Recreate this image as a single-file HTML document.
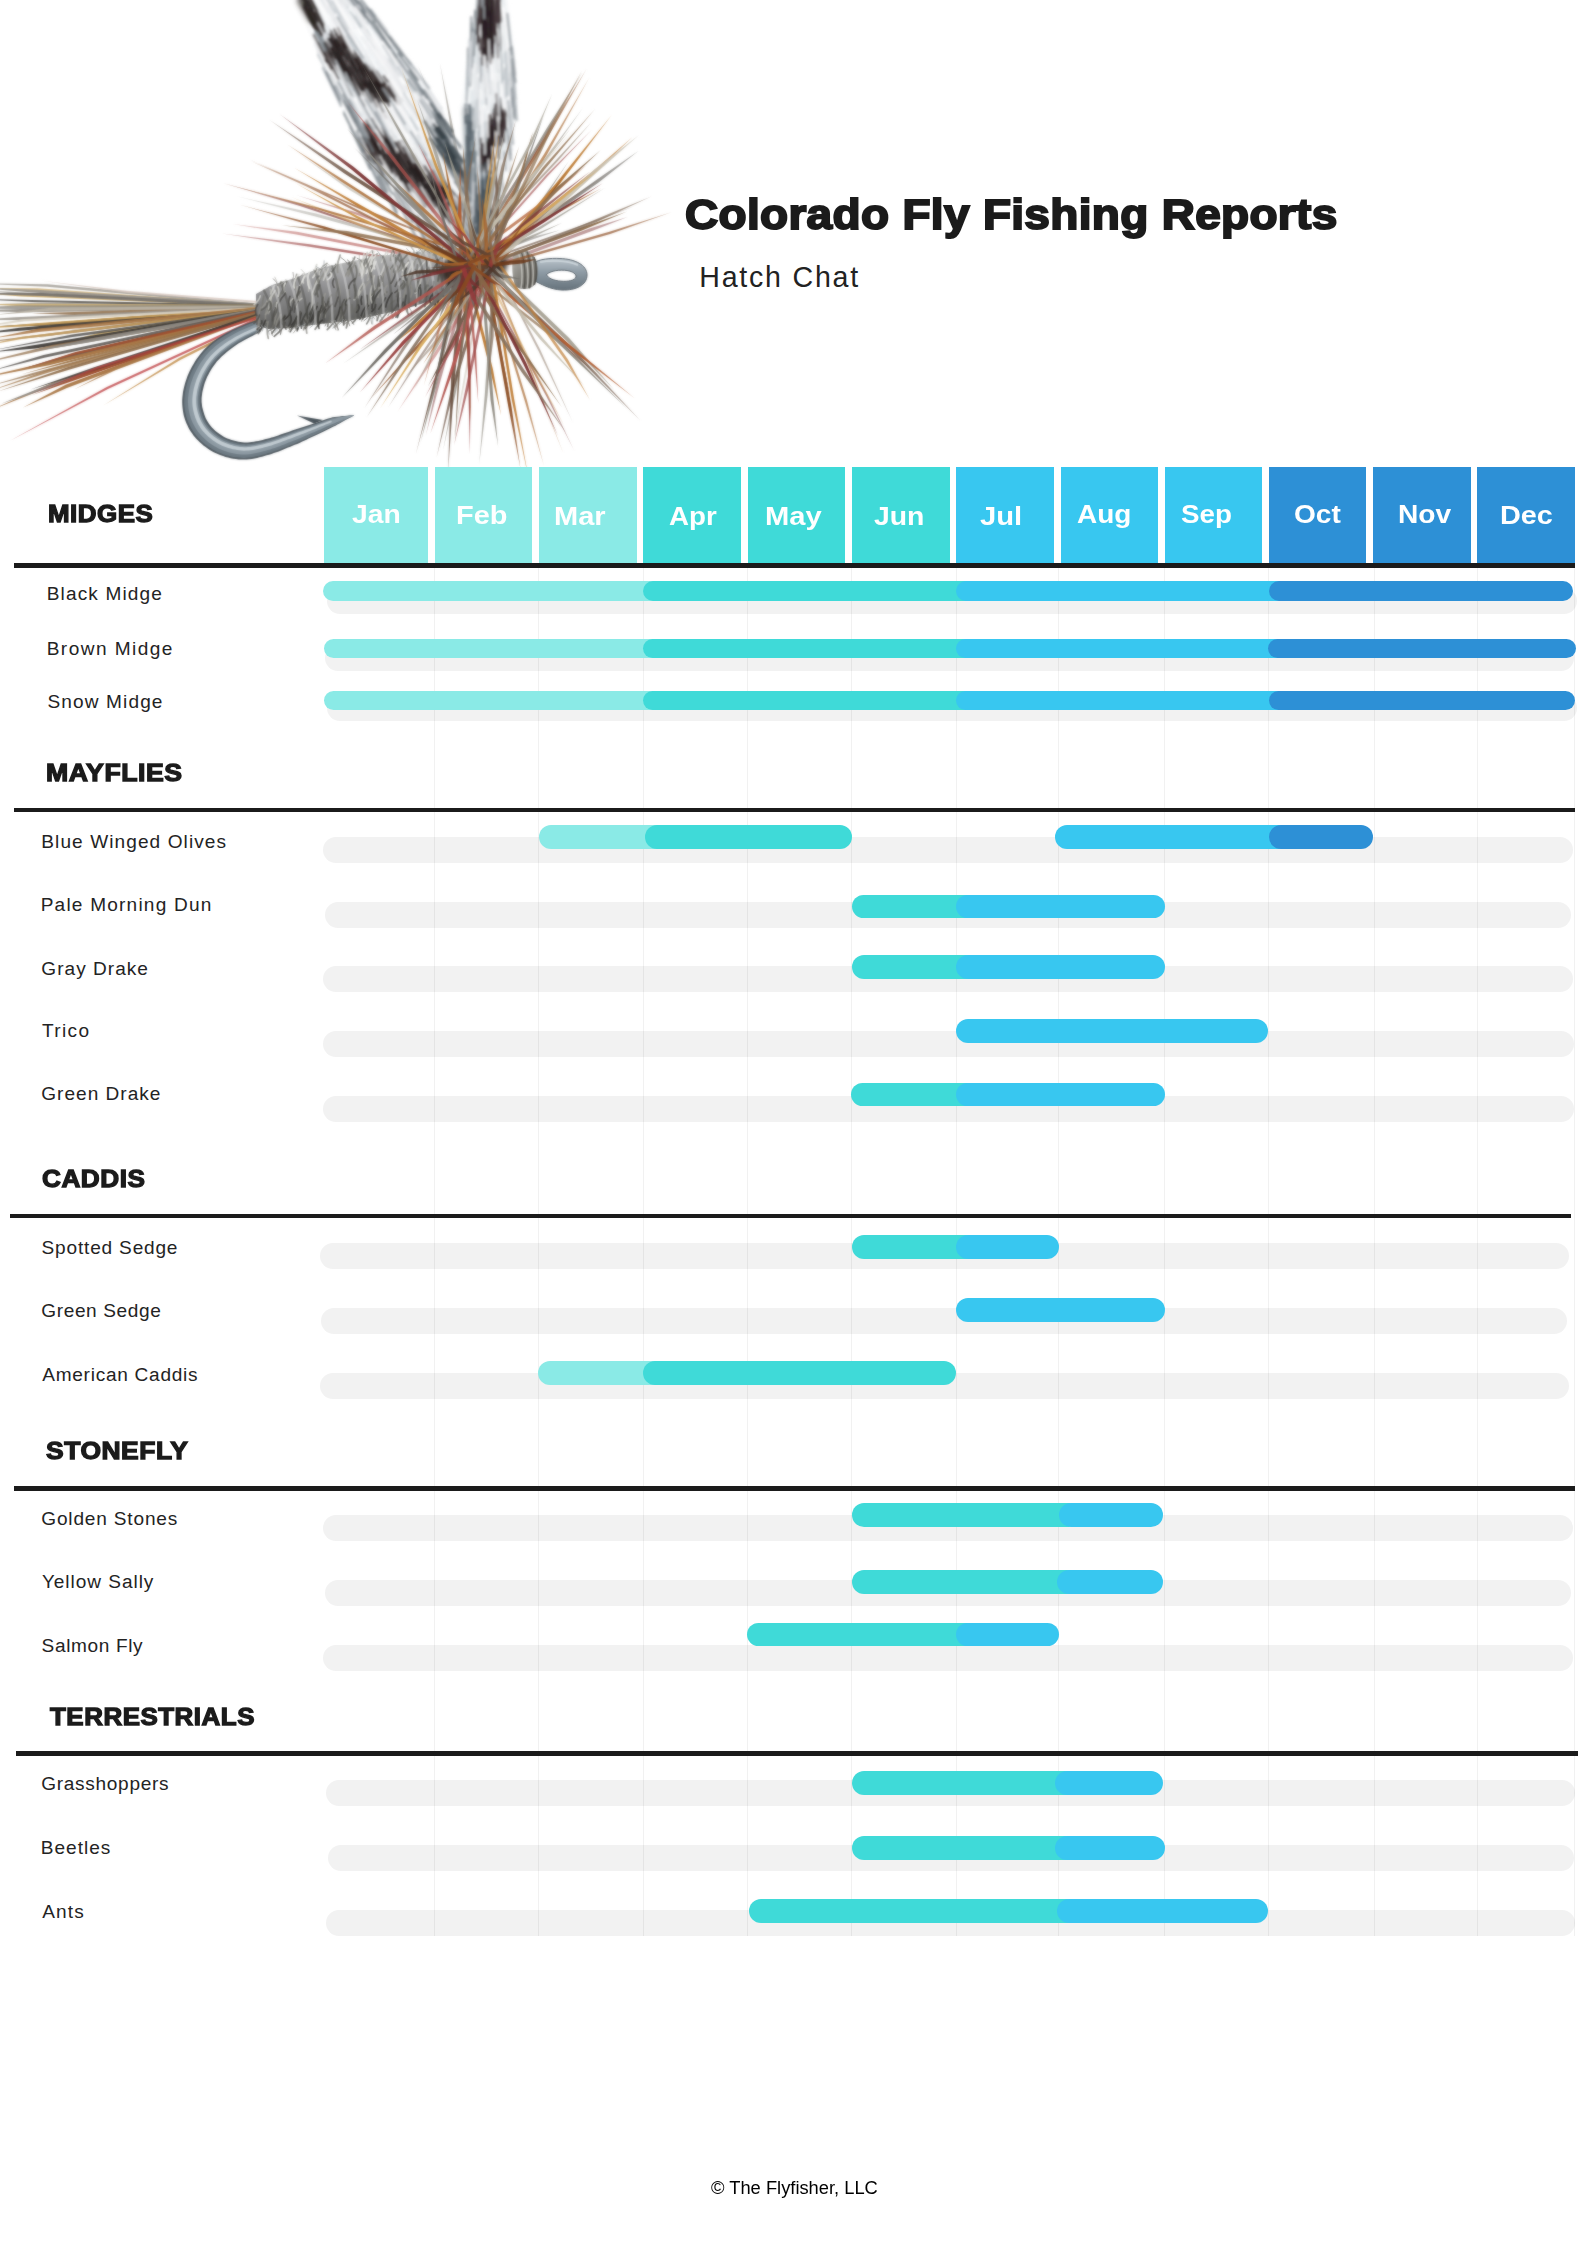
<!DOCTYPE html>
<html><head><meta charset="utf-8"><title>Colorado Fly Fishing Reports - Hatch Chart</title>
<style>
html,body{margin:0;padding:0;background:#fff}
body{width:1587px;height:2245px;position:relative;overflow:hidden;font-family:"Liberation Sans",sans-serif}
.a{position:absolute}
.t{position:absolute;white-space:nowrap;line-height:1;margin:0;padding:0;font-kerning:normal}
.m{position:absolute;top:467px;height:95.8px}
.k{position:absolute;background:#f2f2f2;border-radius:14px}
.b{position:absolute;border-radius:13px}
.l{position:absolute;background:#1b1b1b}
.g{position:absolute;top:567.6px;height:1368.6px;width:1px;background:rgba(0,0,0,.055)}
#fly{position:absolute;left:0;top:0}
</style></head><body>

<svg id="fly" width="720" height="480" viewBox="0 0 720 480">
<defs>
<filter id="s" x="-5%" y="-5%" width="110%" height="110%" color-interpolation-filters="sRGB"><feGaussianBlur stdDeviation="1" result="b"/><feComposite in="SourceGraphic" in2="b" operator="arithmetic" k1="0" k2="0.45" k3="0.55" k4="0"/></filter>
<filter id="s2" x="-10%" y="-10%" width="120%" height="120%"><feGaussianBlur stdDeviation="2.5"/></filter>
<filter id="s3" x="-10%" y="-10%" width="120%" height="120%"><feGaussianBlur stdDeviation="1.1"/></filter>
<radialGradient id="hm" gradientUnits="userSpaceOnUse" cx="478" cy="265" r="285"><stop offset="0" stop-color="#fff"/><stop offset="0.5" stop-color="#fff"/><stop offset="0.8" stop-color="#b0b0b0"/><stop offset="1" stop-color="#555"/></radialGradient>
<mask id="hmask" maskUnits="userSpaceOnUse" x="0" y="0" width="720" height="480"><rect width="720" height="480" fill="url(#hm)"/></mask>
<linearGradient id="tm" gradientUnits="userSpaceOnUse" x1="256" y1="310" x2="-20" y2="420"><stop offset="0" stop-color="#fff"/><stop offset="0.75" stop-color="#eee"/><stop offset="1" stop-color="#888"/></linearGradient>
<mask id="tmask" maskUnits="userSpaceOnUse" x="0" y="0" width="720" height="480"><rect width="720" height="480" fill="url(#tm)"/></mask>
<linearGradient id="bg" x1="0" y1="0" x2="0.25" y2="1"><stop offset="0" stop-color="#cfd0cd"/><stop offset="0.45" stop-color="#98989a"/><stop offset="1" stop-color="#5a5a58"/></linearGradient>
<linearGradient id="hg" x1="0" y1="0" x2="1" y2="1"><stop offset="0" stop-color="#bdbcb7"/><stop offset="0.5" stop-color="#84827c"/><stop offset="1" stop-color="#55534e"/></linearGradient>
<linearGradient id="eg" x1="0" y1="0" x2="0" y2="1"><stop offset="0" stop-color="#b9c3ca"/><stop offset="0.45" stop-color="#8d9aa4"/><stop offset="1" stop-color="#66737c"/></linearGradient>
</defs>
<g filter="url(#s)">
<g mask="url(#hmask)"><path fill="#806a56" fill-opacity="0.62" d="M459.8 265.6L558.2 160.6L591.8 121.7L556.8 159.3L458.4 264.2Z"/>
<path fill="#726e68" fill-opacity="0.5" d="M469.7 262.6L423.9 148.6L392.2 83.1L421.3 149.7L467.2 263.6ZM459.1 267.6L531 239.9L560.4 230.1L530.2 237.5L458.3 265.2ZM489.8 264.1L498.6 330.4L500.5 355L500.7 330.2L491.9 263.9Z"/>
<path fill="#7d3636" fill-opacity="0.75" d="M479.4 263.6L300.6 204L222.7 183L299.9 206L478.7 265.7Z"/>
<path fill="#98403f" fill-opacity="0.62" d="M461.9 272.7L547.8 176.1L592 129.6L546.3 174.8L460.4 271.3Z"/>
<path fill="#8f7050" fill-opacity="0.62" d="M470.1 266.4L494.7 312.7L515.5 359.7L496.7 311.7L472.2 265.4ZM480.5 268.7L449.5 210.8L415.7 159.5L447.1 212.2L478.1 270.1Z"/>
<path fill="#8f7050" fill-opacity="0.75" d="M459.3 264.6L542.1 329.7L602.2 378.2L543.7 327.7L460.9 262.5Z"/>
<path fill="#726e68" fill-opacity="0.75" d="M476.3 262.4L538.6 220.3L569.2 193.4L537.5 218.8L475.2 260.9ZM484.3 266.9L417.1 314.1L393 334.5L418.3 315.7L485.4 268.5Z"/>
<path fill="#98403f" fill-opacity="0.75" d="M495.2 260.4L479.8 179.7L469.7 101.5L477 180.1L492.4 260.8ZM470.8 269.9L309.8 244.2L221.9 233.6L309.4 246.7L470.4 272.4Z"/>
<path fill="#634837" fill-opacity="0.5" d="M487.4 263.2L423.4 157.4L390.7 114L421.1 158.9L485 264.7ZM486 258.5L417.7 358.7L388.1 407.4L419.5 359.9L487.8 259.7Z"/>
<path fill="#726e68" fill-opacity="0.62" d="M488.8 267.9L535.5 212.4L569 160.7L533.7 211.1L487 266.5Z"/>
<path fill="#c4bdad" fill-opacity="0.5" d="M461.1 272.5L528.7 182.3L572.2 130.4L527.1 181L459.5 271.3ZM484.6 263L462.8 383.5L452.6 443.3L464.6 383.9L486.4 263.3ZM494.8 260.3L470.3 199.2L459.6 173.3L467.6 200.2L492.1 261.3Z"/>
<path fill="#d8ad62" fill-opacity="0.62" d="M478.4 265.2L439.9 294.5L405.3 319L441.2 296.3L479.8 267.1ZM466.9 263.9L363.6 225.1L290 196.6L362.6 227.5L466 266.4Z"/>
<path fill="#634837" fill-opacity="0.62" d="M458.7 270.5L402.8 346.9L364.3 408.2L405.2 348.5L461.1 272.1ZM474.9 265.2L555 236.8L633.5 206.5L554.4 234.9L474.2 263.3Z"/>
<path fill="#aaa598" fill-opacity="0.75" d="M478.2 263.3L493.6 179.4L502.8 113L491 178.9L475.6 262.8Z"/>
<path fill="#918d83" fill-opacity="0.62" d="M489.5 261.9L452.8 148.9L417.5 64.2L450.4 149.8L487.2 262.7ZM476.1 260.3L405.6 318.4L343.3 363.4L407.4 320.8L477.9 262.7ZM465 271.8L530.4 182.8L583 107.8L527.8 181L462.5 270ZM479 263.1L455.6 139.6L439.8 62.6L452.6 140.1L476 263.6Z"/>
<path fill="#b05c30" fill-opacity="0.75" d="M460 266.1L545.3 202.8L585.8 165.6L543.5 200.5L458.2 263.8Z"/>
<path fill="#7d3636" fill-opacity="0.5" d="M469.5 268.4L437.5 380.2L425.8 435.6L440.4 381L472.4 269.2ZM491.8 268.2L591.3 231.2L627.5 217L590.3 228.3L490.7 265.3ZM463.9 263.7L533.4 158.1L569.4 93L531.2 156.7L461.7 262.4Z"/>
<path fill="#918d83" fill-opacity="0.5" d="M479.9 258.9L316.1 213.6L236.7 196.3L315.4 216.4L479.1 261.8Z"/>
<path fill="#aaa598" fill-opacity="0.5" d="M472.7 261L350.4 187.7L302.4 156.3L349.1 189.7L471.5 263Z"/>
<path fill="#918d83" fill-opacity="0.75" d="M460.3 274.2L541.4 228.4L605.2 187.8L540.2 226.4L459.1 272.2Z"/>
<path fill="#98403f" fill-opacity="0.5" d="M491.3 264.2L359.5 213.2L296.7 195.3L358.7 215.4L490.5 266.4Z"/>
<path fill="#8f5228" fill-opacity="0.5" d="M477.9 261.8L564.7 204.8L603.3 176.7L563.4 202.8L476.6 259.9Z"/>
<path fill="#b05c30" fill-opacity="0.62" d="M460.1 269.3L437.6 329.7L423.9 385.4L439.9 330.4L462.4 270Z"/>
<path fill="#a86a32" fill-opacity="0.75" d="M482.5 263L524.8 401L544 466L526.9 400.3L484.6 262.4Z"/>
<path fill="#b25650" fill-opacity="0.5" d="M493.5 257.8L434.2 353.3L398 411.1L436.8 355L496.1 259.5Z"/>
<path fill="#7d3636" fill-opacity="0.62" d="M475.3 266L545.8 395.3L574.6 451.5L547.4 394.5L477 265.1ZM479.4 263.5L540.3 321.6L597.8 380.1L542 319.9L481.1 261.9Z"/>
<path fill="#8f5228" fill-opacity="0.75" d="M488.3 257.4L363.8 208.7L249 159.3L363 210.6L487.5 259.4ZM467.9 265.7L307 184.2L249.9 160.7L306.1 186.2L466.9 267.7Z"/>
<path fill="#a86a32" fill-opacity="0.62" d="M492.9 260.6L453.6 177.4L414.8 94.1L451.3 178.5L490.5 261.7ZM488.4 267.5L529.7 369.6L563.4 453.4L531.4 369L490.1 266.8Z"/>
<path fill="#806a56" fill-opacity="0.75" d="M483.1 266.6L469.7 196.3L463.1 151.2L467 196.7L480.4 267Z"/>
<path fill="#c0803a" fill-opacity="0.5" d="M469.2 261.5L397.3 156.5L369.2 110.6L395.7 157.5L467.7 262.5Z"/>
<path fill="#cc9548" fill-opacity="0.5" d="M482.8 268.3L535.3 375.7L563.9 424.7L537.4 374.7L484.8 267.3Z"/>
<path fill="#b25650" fill-opacity="0.62" d="M471.3 265.6L296.9 231.8L232.8 224.1L296.4 234.6L470.8 268.4Z"/>
<path fill="#8f5228" fill-opacity="0.62" d="M474.1 268.3L415 151.6L385.6 104.4L412.8 152.8L471.9 269.5Z"/>
<path fill="#aaa598" fill-opacity="0.62" d="M471.5 270.3L485.8 184.6L490.6 110.9L482.7 184.2L468.4 269.9Z"/>
<path fill="#806a56" fill-opacity="0.5" d="M494.6 266.3L538.3 350.5L573.1 423L540.1 349.6L496.4 265.4ZM492 263.2L431.3 345.1L403.9 378.4L433.3 346.7L494 264.8Z"/></g>
<path d="M474.8 253.5L473.5 239.2L472.1 225L470.1 211.2L468.1 197.3L466 187.4L462.3 175.1L458.5 162.8L454.8 150.4L451.7 139.9L446 128.6L440.3 117.4L434.5 106.1L428.8 94.8L420.7 80.8L413.3 70.4L405.9 60.1L398.6 49.8L391.2 39.4L383.2 29.3L374.7 19.6L366.3 9.9L357.3 0.5L347.6 -8.4L337.8 -17.4L306.2 1.4L309.3 14.2L312.4 27L316.3 39.4L320.7 51.5L325.1 63.6L329.9 75.3L335.3 86.8L340.7 98.3L346.1 109.8L351.5 121.3L355.1 129.6L360.1 141.2L365.2 152.8L370.2 164.4L375.3 176L383.9 187.9L392 197.9L400.1 207.9L408.2 217.9L418.2 230.2L430.2 237.5L442.1 244.8L454.6 251.7L467.2 258.5Z" fill="#e9edf0" fill-opacity="0.95" filter="url(#s2)"/>
<path d="M481.6 252.5L485.5 242.1L489.3 231.7L493.2 221.3L496.8 209.5L499 198.7L501.1 187.9L503.2 177.1L505.4 166.3L507.5 156.4L509.3 145.6L511.1 134.8L512.9 124.1L514.6 113.3L515.6 101.1L514.8 90.2L514 79.3L513.3 68.4L512.5 57.6L511.4 46.6L509.8 35.7L508.3 24.9L506.7 14L505.2 3.1L504 -7.8L480 -8.2L478.5 2.6L476.6 13.5L474.7 24.3L472.8 35.1L470.8 46L469.3 56.7L468.1 67.6L467 78.4L465.8 89.3L464.7 100.1L464.6 109.5L464.7 120.4L464.8 131.3L465 142.2L465.1 153.2L466.1 164.9L467.4 175.8L468.8 186.7L470.1 197.6L471.4 208.5L472.5 218.2L473.1 229.3L473.7 240.4L474.4 251.5Z" fill="#e3e8eb" fill-opacity="0.95" filter="url(#s2)"/>
<g filter="url(#s2)"><path d="M304 0L314 17" stroke="#3a3230" stroke-width="13.6" stroke-linecap="round" stroke-opacity="0.8" fill="none"/><path d="M332 50L380 94" stroke="#3a3130" stroke-width="22.1" stroke-linecap="round" stroke-opacity="0.8" fill="none"/><path d="M434 120L456 168" stroke="#4a545b" stroke-width="13.6" stroke-linecap="round" stroke-opacity="0.8" fill="none"/><path d="M378 146L444 202" stroke="#3a3130" stroke-width="23.8" stroke-linecap="round" stroke-opacity="0.8" fill="none"/><path d="M488 4L488 40" stroke="#3a2f30" stroke-width="17" stroke-linecap="round" stroke-opacity="0.8" fill="none"/><path d="M487 40L487 58" stroke="#3a2f30" stroke-width="8.5" stroke-linecap="round" stroke-opacity="0.8" fill="none"/><path d="M500 114L485 164" stroke="#3a2f30" stroke-width="13.6" stroke-linecap="round" stroke-opacity="0.8" fill="none"/><path d="M468 110L471 176" stroke="#67737b" stroke-width="8.5" stroke-linecap="round" stroke-opacity="0.8" fill="none"/><path d="M485 184L480 244" stroke="#56626a" stroke-width="15.3" stroke-linecap="round" stroke-opacity="0.8" fill="none"/></g>
<g filter="url(#s3)"><path fill="none" stroke="#ffffff" stroke-opacity="0.85" stroke-width="2.0" stroke-linecap="round" d="M375.8 39L364.9 22.6M404.9 221.3L391.3 195.6M327.9 20.6L313.5 -6.4M416.2 77.5L402 58.6M416.5 121.3L406 105.3M433.2 235.1L422.4 213.1M336.2 28.8L314.6 -8.1M400.1 211.9L390.9 190.9M408.1 132.6L391.4 104.6M437.7 215.3L419.4 183.9M439.4 180.6L418 145.9M340.6 34.1L331 16.8M435.8 148.8L420.2 125.6M356.3 101.8L347.2 83.9M433.5 240.3L412.8 202.9M406.3 56L384 25.3M418.4 132.1L401.2 103.4M470.6 251.5L448.2 212.5M451.1 249.6L438.3 227.4M455.9 249L443 225.7M365.9 21.5L343 -14.4M394.8 62.1L376.7 33.8M467.1 263.2L455 239.7M470.7 238.1L446.3 202.3M400.8 137.9L386.7 112.7M401.9 74.2L385.7 51.2M326.7 13.6L306.9 -22.3M445.7 242.7L434.8 223.7M354.2 11.9L344 -4.3M417.2 108L398.4 78.6M402.2 199L380.3 156.6M337.4 90.3L325.8 65.4M422.1 124.5L409.8 107.1M403.5 220.4L387.4 183.8M416.1 100.3L397.4 70.2M350.8 36.1L341.5 19.4M431.2 116.1L420.8 100.4M391.3 69L372.4 37.1M480 261.9L456.6 227.6M408.4 225.5L387.2 186M464.4 265.6L453.1 241.8M383.2 35.2L366.9 10M469.3 253.6L450.4 220.7M341.7 38.4L326.1 10.6M483.3 231.9L458.9 195.5M414.2 94.2L397.7 70.5M346.6 4.1L321.4 -33.1M389.4 77L368.6 42.2M462.5 260.4L450.4 238.4M402.9 82.5L379.9 44.5M459.6 261.7L443.1 228.1M405.6 100.7L391.2 79.9M425.8 219.2L412 192.6M481.8 241.5L461.8 210.6M383.1 140.4L367.8 109.9M461.4 253.5L439.4 217.4M393.6 121.2L379.8 97.2M390.3 52.4L378.8 35.2M403.2 79.5L381.3 47.2M463.4 198.4L442.3 169.1M400.3 149.4L389.3 129.6M456.8 252.6L441.1 225.4M403.4 55L385.3 30M368.8 142.1L357.4 119.9M340.4 10.3L326.6 -12M360.9 111.7L343.8 81.2M394.9 133.7L377.1 105M452 185.4L427.3 145.9M374.1 45.4L359.1 20.6M396 188.3L387.7 171.2M366 48.2L342.2 12.8M383.9 51.1L370.9 31.3M336.1 51.5L314.1 10.4M376.8 125L365.1 103.9M427 157.9L413.5 136.6M466.8 236.2L446.4 200.7M355.5 132.5L335.3 94.1M473.3 250.9L460.2 231.5M438.1 165.4L420 138.9M461.1 252.7L450.1 231.3M345.8 32.2L331.9 9.4M341.5 3.8L328.2 -17.5M333.9 9.3L319.9 -16.3M368.4 44.3L349.5 14.3M337.4 23.5L321 -5.5M380 64.1L370.4 47.9M425.2 132.3L403.6 100M430.9 242.5L422.7 225.1M459.4 255.2L440.8 219.9M355.9 57.3L334.1 20.2M459 256L442.5 225.7M413.8 101L399.7 77.5M443.3 237.3L428.3 210.8M407.7 118.5L386.7 85.8M413.6 156.9L399.1 132.2M355.5 33.1L340.7 7.8M413.3 129.6L398.1 106.6M365.6 28.8L345.4 0.4M413 125.2L396.4 100.8M337.2 10.4L312.4 -28.7M415.7 110.2L405.9 94.3M473.4 249.2L462.5 232.1M458.9 246.3L434.6 207.6M399.5 75.4L387.1 55.7M480.6 249.7L458.6 215.3M422.5 142.4L397.1 105.1M440.5 159.2L429.1 141.7M343.5 1.9L321.6 -29.3M383.7 130.9L370.8 107.9M445.3 250.5L433.1 228.6M350.7 118.4L341 99.6M348.6 22.3L333.7 -3.6M352.5 110.4L342.8 90.2M375 133.4L356.6 97.2M425 116.4L412.2 97.4M358.5 133.9L346.1 108.4M413.2 207.2L400.7 185.5M406.9 108.8L385.2 72M397.1 189.1L384.9 165.2M412.2 147.2L394.7 118.6M457.5 245.5L433.9 204.5M408.9 216.8L394.4 189.5M347.9 40.4L338.8 23.1M335.2 14.1L319.4 -10.9M382.7 64.1L371.6 46.8M393.3 133.9L382.4 114.3M469.6 247.7L456.7 228.3M456.4 189.7L441.6 166.6M416.6 120L398 92.4M451.2 254.5L439.3 230.2M475.5 262.4L453.9 226.8M426.3 227.6L413.6 201.6M467.3 267.2L450 231.6M466.4 256.3L452.3 230.1M408.6 138.1L398.4 121.1M474.2 217.9L464.1 203M410.8 113.4L399.6 96.9M368.8 62.7L346.2 24.8M332.4 28.6L317.9 0.1M451.7 240.4L441.8 222.2M472 227.2L458.6 208M329.5 51.2L316 21.8M473.5 267.6L454.6 231.4M349.4 106.2L328 64.2M376.9 67.5L364 47.5M376.2 59.9L356.7 29.2M479.7 254.3L463.3 227.7M459.8 254.2L437.3 215.2M452.4 251.2L432.2 213.7M409.9 110.1L394 82.3M419.6 126.4L405.1 101.7M381.4 148L364.5 113M327.7 24.1L312 -5.1M472.6 237.9L451.6 205.8"/>
<path fill="none" stroke="#3a3130" stroke-opacity="0.9" stroke-width="2.2" stroke-linecap="round" d="M410.1 169.2L396.4 142.5M415 159.9L403.2 140.3M424.4 207.3L413.3 188.2M436.5 216.8L423.4 194.9M370.5 161.1L362.7 143.2M356.9 92.9L346 70.5M359.6 95.1L346.4 70.2M401.1 153.8L391.3 137M372.4 162.6L363.8 144.5M385.1 84.9L376.2 71.6M412.1 162.6L400.5 140.8M364.2 68.8L357.1 56.6M328 61.5L319.2 43.1M373.3 158L364.8 140.2M368.7 145.7L362 132.2M372.4 81.9L357.9 56.9M414.6 200.3L403.6 180.9M434.1 183.3L424.4 166.3M380.4 87.5L366.7 65.9M332.6 71.6L323.6 53.9M459 222.9L447 202.5M384.4 88.2L372.8 67.6M459 225.5L448.8 207.2M451.4 229.7L437.4 207.5M350.9 95.8L338.4 69.6M381.1 117.9L367.3 92.2M368.9 159.8L359.4 137.9M393.2 146L382.7 128.3M346.1 47.8L337.4 32.8M395 151L381.3 128.1M338.3 79L328.9 61.5M360.4 67.9L348 46.5M396.5 94.5L384 76M413.6 168.6L405 154.6M350.8 84.2L341.3 65.6M455.6 201.2L443.1 182.3M440.7 193.4L429.2 173.1M374.7 79.5L367.2 66.7M373 160.1L363.7 142.6M344 48.8L336 34M351.6 53.7L337.7 28.1M376.3 146.7L368.2 129.5M370.6 101.7L360.7 83.3M424.3 171.1L414.5 154.6M462.3 217.9L453.5 203.7M376.8 106.8L364.4 83.7M422 179.6L408.1 154.4M382.2 88L369.2 66.5M375.3 162.4L364.2 139.5M376.3 154L362.6 127.3M326.8 61.7L313.5 34.9M370.7 160L364.2 147M412.9 192.8L398.4 167.7M378.7 148.1L366.9 125.1M370.4 153.1L362.2 137.5M368.5 76L353.9 51.2M417.6 172.6L406.8 152.6M399.8 104.4L388.7 86.2M348 80.7L337.2 59.4M370.1 145.9L361.4 130M385.7 142.6L372 118.8M364.2 71.1L356.5 58.4M460 212.9L450.1 198M442.8 218.4L432.4 198.7M401.5 101.3L387.4 79.6M462.6 206.5L450.9 190M443.5 221.3L431.7 200M343.2 46L334.1 29.1M412.1 163.3L399 141.2M442.3 185.7L432.4 170.6M386.3 117.9L375.4 98.5M376.4 149L363.7 123.1M397.5 103.6L389.2 89.5M440.8 193.6L427 170.4M394.5 99.9L378.5 75M327.3 61.8L321 49.1M391.9 182.2L379.4 158.7M364.5 105.8L352.1 84.7M407.4 193.7L399.5 177.7M378.5 141.1L366.8 120.5M377.2 150.3L365.8 127.9M374.6 159.4L367.6 144M468.3 216.4L451 191.9M449.1 199.3L438.8 183M450.3 223L437 202M377.5 85.4L365.3 64.1M383.3 149L370.7 125.8M382.9 175.5L372.7 154.6M427.4 204.1L419.8 189.8M418.8 170.6L410.6 157.3M458.4 204.3L443.8 181.2M338.6 46.7L330.5 30.7M421.1 174.4L412.2 160"/>
<path fill="none" stroke="#b9bfc4" stroke-opacity="0.85" stroke-width="2.0" stroke-linecap="round" d="M365.5 111.4L345.5 73M355 50.6L340.5 25.3M329.3 76L318.1 54.9M463.3 262.5L455.8 245.6M393.8 63L383 45.3M367.1 113.1L346.2 76.1M366.9 24.5L355.4 6.2M374.2 131.6L357.8 99.7M467.4 260.1L451.9 232.6M347.5 7L330.6 -17.3M478.9 216.6L461.2 189.9M354 96.7L335.5 60.7M369.7 116.5L350.2 83M474.8 207.7L450.3 174.2M360.8 27.5L350.4 12.4M430.4 247.8L409.4 208.2M372 40L356.3 13.7M415.1 94L397.8 67.4M468.5 259.1L449.5 224.1M470.9 173.8L450.2 142.7M388.3 132.7L366.3 90.2M327.6 35.7L316.8 13.8M426.9 130.9L401.9 90.2M449 250L427.3 211.5M376.6 50.7L354.6 16.3M458.2 244.2L436.4 203.8M464.6 257.4L445.8 221.2M354.3 40.6L332.2 1.2M460 256.1L451 239.4M342.4 0.8L323.2 -26.8M335.4 12.7L314.3 -21.9M474.9 262.6L459.1 234.7M442.9 113.2L428.8 92.3M443.4 180.1L431.1 160M362.8 151.3L343.6 111.1M421 135.6L401.3 103.3"/>
<path fill="none" stroke="#323b41" stroke-opacity="0.9" stroke-width="2.2" stroke-linecap="round" d="M459.9 178L446.7 156.9M459.6 166.5L450.1 152.3M449.7 158.1L434.9 136.1M460.4 169.4L447.7 152M458 168.4L447.2 153.6M443 136.5L431.6 119M464.5 182L448.1 158.4M462.6 172.3L449.9 154.1M446.6 138.8L435.9 124.5M463.5 176.7L447.2 153.2M442.6 138.5L431.6 122.6M458.5 172L450.4 159.2M439.5 131.9L426.1 110.7M452.5 161.9L435.6 138.2M452.4 149.2L440.4 132.2M455.7 157.9L446.3 143.2M453.1 162.6L437.8 138.3M457.8 163.8L447.2 147.8"/>
<path fill="none" stroke="#d3d7da" stroke-opacity="0.85" stroke-width="2.0" stroke-linecap="round" d="M331.4 42.1L322.2 26M407.8 132.6L395 109.6M441.7 108.7L421.7 78.7M433.6 127.9L412 95.8M442.5 248.4L428 219.3M333.1 4.8L317.7 -20.7M341.5 3L325.4 -23.7M431.1 244.9L416.2 214.4M458.9 242.6L436.9 206.7M396 138.8L381.1 112.3M463 253.2L449.9 230.4M430.4 166L415.9 143.1M399.3 75.8L388.9 59.6M442 249.5L425 213.1M357.9 140.5L347.3 120M349.4 34.1L334.9 8.7M405.4 91L384.9 56.7M407.6 129.9L395.6 111.7M456.1 253.5L435.1 216.7M361 116L340.4 76.8M472.4 261.1L460 240.4M350.6 4.1L338.8 -12.6M430.7 123.1L407.8 87.3M378.4 21.1L363.8 2.5M341.9 6.2L320.9 -29.2M440.6 170.1L417.5 134.8M396.5 68.4L386.7 52.5M457 267.9L439 227.7M383.1 133.5L366.2 104M440.1 239.5L425.4 210.7M371.2 69.5L360.2 52.7M397.9 135.8L375.8 94.1M428.4 147.7L418.8 131.4M340 93.2L331.1 74.1M405.1 79.6L382.8 46M351.4 97.9L338.4 71M401.9 88.8L377 48.7M451.4 253.6L441.7 233.2M427.1 220L408.7 184.4M413.6 162L402.4 141.4M331.4 46.2L316.3 19.4M337.1 25.9L317.2 -10.5"/>
<path fill="none" stroke="#9fa6ab" stroke-opacity="0.85" stroke-width="2.0" stroke-linecap="round" d="M341.1 106L322.9 67.9M340.8 102.8L332.9 86.3M401.1 67.4L389.1 48.1M400.2 198.7L390.6 179.9M386.9 31.2L370.8 9.6M424.9 240.1L416.3 222.8M478.7 226.5L457.8 196.8M369.4 22.7L358.6 5.9M429 88.2L408.7 61.1M457.8 261.3L441.7 231.6M354.5 121.8L335.6 85.7M372.1 23.1L352.9 -4M462.8 265.7L448.1 233.8M429.5 248.6L414.2 214.9M484.3 242.2L457.9 204.9M368.5 137.9L350.8 104.1M479.8 223.2L464.6 203.6M324 50.7L315 31.6M460.6 148.9L434.2 110.9M364 18.3L343.4 -10.2M452.8 260.9L436 224.1M358.4 117.7L349.5 99.6M366 137.4L354.8 115.7M414.2 69L386.5 31.6M326.9 47L308.6 7.7M340.7 104.1L323.9 68.8M462.4 263.9L450.8 238M481.8 243.9L459.4 211.2"/>
<path fill="none" stroke="#f4f5f6" stroke-opacity="0.85" stroke-width="2.0" stroke-linecap="round" d="M402.7 202.8L383 165.7M331.7 17.8L318.5 -3.6M379.5 61.7L366 41.1M398 65.2L380.1 38.2M368.6 28.4L355 6.6M363.4 17.8L338.7 -18.4M397 121L379.1 91.1M416 135.2L396.7 102.3M409.7 199.1L401.6 182.2M471.1 205.9L459.5 187.9M375.7 169.2L360.6 137.6M327.1 13L314.1 -10M471.4 241L449.8 207.1M386.2 61.6L371.8 41M418.7 107.2L404.8 86.3M473.4 198.2L457.8 176.3M403.6 129.5L380.7 87.7M436.9 125.5L420.4 100.4M422.2 168.4L402.3 135.4M402.8 101.8L386 73.5M381.1 130.6L367.6 105.9M406.7 92.4L395 73.9M372.1 124.6L364 108.2M473 223.3L448.6 189.7M339.4 34.4L324.9 7M457.7 188.9L434 150.2M435.5 136.9L413.4 103.7M413.9 208.5L396.9 177.9M346.2 6.2L325.7 -26.1M399.5 65.3L373.4 27.9M429.8 227.5L412.7 192.8M404.4 105.9L382.2 67.8M351.7 50.3L329.5 9.1M429.8 180.8L413.9 152.1M369.2 18.6L349.9 -7.2M422.7 158.8L406.5 132.8M424.5 230.3L409.7 202.9M419.3 161.7L397.6 127.2M393.3 130L384.3 112.8M462.4 214.3L448.9 194.3M427.4 221.4L410.5 192.2M397.4 150.8L377.8 116.7M365 9.6L350.8 -11M454.7 253.8L438.2 219.8M405 131.7L382.3 90.1M387.3 62.4L364.4 29.1M445 116.5L426.8 91.5M429.3 134.9L409.5 106.4M470.8 272.9L451.5 232.5M484.6 235.5L459 198.3M398.8 94.5L379 64.6M453.2 186.3L430.2 148.1M445.1 237.4L429.4 211.3M432.5 123.2L414.2 93.5M422.5 241.1L406.9 209.3M474 258.5L450.7 216.7M425.5 115.2L409 88.7M399.5 132L383.7 105.8M362.1 51.4L349.1 30.9M459.3 258.4L444.1 230.6M470.2 232.5L445.1 194.6M398.8 120L383.7 94M402.7 92.1L388.2 67.6M432.1 109L412 81M375.8 48.5L362 28.1M446.8 172.7L433.6 153.2M403.2 145.6L391.1 123.5M464.8 254.9L452.3 231.7M414 138.8L391.2 99.2M409.2 221.9L390.5 184.1M391 72.4L372.1 41.5M370.3 122.9L354 92.7M387.3 151.5L365.5 111M389.9 43.7L363.9 8.6M390 128.4L371.7 92.9M377 123.6L361.3 97.2M468.8 218.7L455.3 196.7M345.3 34.7L322.4 -5.5M404.2 96.9L392.8 79.6M436.4 160.8L421.8 139.5M469.6 241.6L450.5 209.4M439.2 107L412.9 70.5M454.8 189.3L428 150.6M330.4 12.7L320.5 -5.7M436.8 252L415.3 211.8M323.7 58.8L307.3 26.6M408.5 118.4L396.2 98.2M402.1 101.2L390.3 81.7M352.9 52.5L339.4 27.5M394.6 42.3L375.9 17.9M427.6 91L415.8 73.3M429.6 115.4L414.9 92.6M418 118.8L399.4 89.2M474 263.2L458.9 237.3M454.1 261.2L441.3 235.4M453.5 247.2L434.1 213.8M359.8 135.4L349.7 116.6M355 44.3L340.5 20.1M341.6 88.8L331.7 70.8M441.2 169L418.6 131.9M444.5 166.1L419.4 129.9M394.8 74L371.8 35.9M432.8 226.9L413.9 188.4M438.6 240.6L424.4 215.6M404.1 71.7L376.7 33.6M334.6 17.8L324 0.7M358.1 9.8L344.9 -8.3M448.6 241.6L432.5 213.4M412.3 152.8L388.2 112M365.6 28L352.9 7.1M355.8 28.2L337.2 -1M462.7 261.4L444.9 227M361.8 11.1L333.6 -25.9M399 87.3L374.9 49.7M466.4 262.1L457.2 243.1M353.6 34.4L330.9 -5.3M429.7 125.5L418.5 108.9M424.9 235.3L410.2 204.5"/>
<path fill="none" stroke="#8b9298" stroke-opacity="0.85" stroke-width="2.0" stroke-linecap="round" d="M357.6 119.2L338.2 82M422.2 94.9L399.2 60.3M364.2 148.1L356.7 131M442 116.9L424.3 90M327 47.5L313.5 20.8M352.3 113L343.7 95.6M476.2 228.5L458.4 200.8M485.6 240.3L459.3 203.6M458.6 260.1L450.3 242M468.4 193.8L455.9 175.3M483.9 257.9L465.3 231.8M476.9 208.7L462.4 188.4M442.2 251.9L434.7 235.2M397.4 216.4L378 176.9M356.1 122.3L343.3 94.5M410.7 64.3L390.3 37.2M389.2 183.7L378.4 162.8M399.3 61.5L383.1 37.7M364.5 16.7L340.5 -17.7M374.6 22L359.3 1.4M472.2 196.3L456.7 174.7M378.8 23.6L360 -2.1M434.7 116.5L408.2 79.8M406.6 72.2L394.3 54M435.5 108.8L421.8 89.6M382.2 39.9L362 10.7M437.8 112L420.5 89M443.1 259.3L423.5 218.3"/>
<path fill="none" stroke="#e6e9eb" stroke-opacity="0.85" stroke-width="2.0" stroke-linecap="round" d="M419.6 81.4L405.9 63.4M373.8 125L359 98.2M442.6 241.4L427.8 213.4M416 220.6L397.7 183.9M393.9 140.6L373.1 102.8M434.1 142.2L423.9 126.5M458.2 243L434 201.6M443.7 257L422.9 218.8M329.1 75.4L315 43.9M355.9 22.3L337 -5.3M333 39.2L319 11.2M414.6 222.1L402.5 199.5M458.1 250.9L436.1 208.3M434.4 255.1L413.7 212.6M467.6 259L457.2 240.9M427.4 160.6L403.4 119.2M404.9 200.2L384.2 158M329.4 13.5L314.7 -10.3M473.4 240.2L452.2 209.1M429.3 230L417.6 206.5M392.1 52L369.5 21.7M477.7 264.9L457.5 230.5M381.9 81.8L364.6 55.6M469.6 251.9L460 235M429.8 124.7L404.6 84.7M376.8 124L362.7 96.7M477.7 255.3L459.2 225M349.4 45L328.8 6.2M460.9 265L441.7 229.1M374.5 68L363.5 48.5M439.5 105.6L422.7 83.5M410.7 151.2L392.5 119.7M434.1 122.3L418.7 98.8M466.7 269.8L450.9 237.9M440.8 171.6L428.9 151.6M412.1 208.7L400.3 183.8M383.6 129.3L364.1 92.5M435.1 121.2L417 92.6M476.8 205L455.6 172.2M463.7 267.9L443 225.1M485.1 246.9L460.7 213.9M411.5 133.6L399.2 111.9M479 216.7L460.2 189M422 225.1L407 195M356.3 5.6L334.8 -22.9M364.1 27.4L350.7 5.4M462.1 240.5L450.2 218.9M416.8 119.6L402.4 97.3M387.1 73.7L362 37M409.4 116.3L388.9 83.1M476.4 247L459.4 223.3M450.1 251.6L436.4 224.1M379.3 122.2L369 102M349 4.4L329.2 -23.7M459.2 243.6L448.3 225.9M352.4 100.9L336.3 65.7"/>
<path fill="none" stroke="#231c1c" stroke-opacity="0.9" stroke-width="2.2" stroke-linecap="round" d="M331.7 56.1L324.9 42.5M343.2 63.3L330.4 38.3M347.7 59.8L336.3 39.5M404.6 175.1L396.6 160.4M424.6 180.8L415.8 165.7M357.6 71.8L349.2 56.2M439.7 200.2L431.2 186.8M392.4 167.5L380.9 145.4M379.3 153L369.8 135.7M440.8 199.6L426.6 176M350.3 77.2L341.8 61.8M382.8 101.7L369.2 78.1M428.5 191.6L415.1 169M383.8 159.3L375.5 143.5M452.7 222.3L437.2 196.9M457.1 209L443.3 187.4M365 86.1L350.5 61.2M457.7 209.9L442.4 185.3M350.8 74.8L336.7 50.7M343.6 70.3L330.8 47.9M370.7 89L359.2 69M389.2 105.8L375.9 81.4M385.3 102.4L374 83.1M419.9 186.3L409.6 168.8M362.6 89.9L349.6 66.8M434.7 198.3L426.6 183.9M396.9 168.3L389.5 155.1M375.2 98L364.9 81M351.4 80.3L345.2 67.6M429.1 192.7L418.5 175.1M356.5 69.5L342.8 44.3M457.5 215.2L444 192.7M403.9 182.1L392.6 161.9M444 214.6L436.3 202.2M373.9 95.3L365.3 81.5M410.1 174.6L398.5 154.3M364.9 76.4L354.2 57.4M453.6 208.3L438.7 186.1M342.4 55.4L329.7 34.1M398.2 160.5L387.4 140.7M346.9 69.6L338.9 54.2M395.5 157.2L385.4 138.7M389.2 101.6L378.5 82.9M409.6 182.2L396.6 156.3M392 172.5L382.9 155.5M379.5 101.9L369.2 82.2M371.2 80.6L363.2 66M417.4 181.4L410.1 167.9M341 61.3L328.4 38.6M444.4 204.3L433.1 184M346.6 68.9L333.3 43.7M436.5 195.6L429.4 183.6M444.6 217.5L430.3 194.3M416.6 176.9L408.3 161.8M434.5 200.1L427.6 187.4M439.9 207.8L427.5 186.8M424.2 188.6L413.7 168.7"/>
<path fill="none" stroke="#4a545b" stroke-opacity="0.9" stroke-width="2.2" stroke-linecap="round" d="M447.2 163.1L433.1 141.4M439.7 145.8L424.8 121.1M461.7 163.7L449.6 145.7M450.2 167.9L440.1 153.2M451.6 137.2L436.6 114.2M463.6 161.7L452.8 146.7M443.9 150.5L430.6 131.7M444.8 125.1L430.4 103.9M465.7 176.1L455.4 160.5M450.7 166.9L437.6 146.1M467.5 188.6L451.9 165.3M467.4 183.2L456.1 165.9M461 160.5L445.9 139M441.3 155.1L429.5 138.4M440 152.5L431.6 139.3M452.3 131.5L439.3 113.3M453.1 169.5L442.1 152.3"/>
<path fill="none" stroke="#747c83" stroke-opacity="0.85" stroke-width="2.0" stroke-linecap="round" d="M464.4 190.8L448.9 168.1M477.3 199.3L458.6 174.2M391.9 193.5L382.5 176.1M479.5 215.1L454.6 181.7M475.1 199.1L455.1 171.5M484.8 256.9L460.7 221.9M430.4 249.7L416.1 220.4M396.5 57.3L373.3 21.1M456.3 261.3L443.5 232.6M385 196.6L371.9 169.2M357.3 3.9L346.2 -12.4M423.9 93.5L409.5 70.9M370.1 169L350.3 126.9M486.1 250.1L459.2 213.6M483.5 257.8L464.2 230.8M354.9 5.8L336.5 -22.4M453.2 261.9L436.2 230.3M321.6 40.7L311.9 21.6M460.8 146.5L441.1 119.8M362.4 7.7L348.2 -12.4M326.2 50.3L316.6 32.8M416.1 237.2L398.9 203.9M402 55.6L379.2 25M476.9 210.2L450.4 171.5M403.8 212.1L393.7 193.3M426.6 97.9L409.3 70.9M392.1 40.7L367.2 7.8M389.6 48L361.5 9.6M385.4 196.6L369.8 163.4M372.9 151L356.1 118.7M476.9 240.6L465.7 223.6M363.5 151.5L344 113.4M412.8 222.1L395.1 188.8M387.3 191.7L369.2 155.1M340 100.1L327.3 73.4M428.2 246.9L412.1 214.8M397.2 212.4L389.4 196.1M336 91.8L326.4 71.9M359.4 131.1L343.4 101.1M366 142.7L348.3 105.9M482.5 229.5L457.5 196.1M365.2 12.7L341.6 -22.4M418 79.9L398.3 53.5M477.3 233.9L458.2 205.2"/>
<path fill="none" stroke="#3a3230" stroke-opacity="0.9" stroke-width="2.2" stroke-linecap="round" d="M323.6 27.7L315.4 12.7M321.1 35L308.6 11.6M323.6 24.7L315.9 9.2M317.1 30.7L310.9 17.7M316.7 10.8L310.1 -3M318.7 15L308.8 -4.1M322.2 35.3L309.1 8.8M324.5 31.8L312.8 9.7M313.6 26.5L303.9 7.3"/>
<path fill="none" stroke="#2a2322" stroke-opacity="0.9" stroke-width="2.2" stroke-linecap="round" d="M314.9 23.3L307.4 8.1M312.6 23.3L304.1 4.4M315.5 29.3L304.9 7.3M311.5 21L304.4 5.4M317.1 21.4L309.9 5.8M311.8 17.1L301 -6.6M313 12.9L301.2 -9.5M316.7 19L308 0.6"/>
<path fill="none" stroke="#9aa1a7" stroke-opacity="0.85" stroke-width="2.0" stroke-linecap="round" d="M375.9 128.5L354.1 89.2M414.8 218.6L393.1 178.6M364.9 135.8L349.7 102.6M426.3 155.4L410.4 131.5M395 147.1L375.8 112.1M435.4 249.7L417.6 215.8M384.1 129.8L365.7 99.3M404.9 124L383.1 88.4M362.9 57.6L337.5 17.3M471.3 243.4L459.8 224M431.7 118L420.2 100.4M442.2 185L423 151.9"/><path fill="none" stroke="#241b1c" stroke-opacity="0.9" stroke-width="2.2" stroke-linecap="round" d="M483.8 38.2L483.4 11.8M492 166.4L490.8 139.8M493 159L491.8 143.8M492.3 17.9L491.4 -9.7M490.1 49.1L490.3 31.9M484.8 162.7L483.5 142.3M488.1 15.3L487.2 -4M491.6 35.6L490.3 18.1M491.4 153.5L489.7 128.3M496.4 131.9L495.1 104.6M485.2 30.9L484.4 8.4M490.9 150.1L488.6 121.8M493.1 57.1L491.1 28.9M500.8 128.3L499.8 111.1M485.7 30.4L485.9 11.2M489.8 149.1L488.7 129M500.3 121.3L499.2 106.7M482.4 29.6L483.3 6.1M486.1 57.4L485.3 32.4M484.8 163.8L484.6 145.8M491.8 14.1L490.6 -11.2M493.3 139.3L492.5 119.7M487.2 160.9L486.4 134.4M502.7 125.8L499.8 98M493.1 31.6L491.7 10.1M486.8 31.1L486.3 5.5M486.4 36.4L486.6 11.8M487.8 51.2L487.3 23.2M491.2 166L489.1 143.7M484.6 25.9L484.1 8.9M488.8 72.3L488 44.7M491.8 145.2L491.5 126M487.6 156.7L486.6 142.1M487.8 172.8L487.4 146M490.3 33.7L489.1 12M488.4 14.1L488.2 -2.3M484.3 165L484.2 138.1M494.6 158.4L493.3 136.4M491.2 152.9L490.4 132.3M487.7 67.2L487 39.1M491.3 30.6L490.9 7M484.5 64.6L484.1 48.2"/>
<path fill="none" stroke="#747c83" stroke-opacity="0.85" stroke-width="2.0" stroke-linecap="round" d="M512.9 81L508.9 48.7M467.8 91.6L468 48.3M514.4 118.4L510.8 72.3M471.8 222.4L471.7 182.8M515.3 82.3L513.5 59.1M492.6 248.6L489.7 206.4M473.4 42.6L475.3 10.5M468.1 201.4L469.6 170.2M510.6 159.7L508.8 136.2M499.4 221.3L496.2 173.4M464.7 180.6L466.2 153.1M512 94.7L510.5 76.4M509.6 85.7L508.3 57.9"/>
<path fill="none" stroke="#ffffff" stroke-opacity="0.85" stroke-width="2.0" stroke-linecap="round" d="M472.4 242.6L472.6 215.6M465 114.2L466 91.8M497.8 159.7L495.9 132.1M501.2 96.6L499 54.4M479.2 131.5L480.1 89.6M472.1 88.7L471.5 62M504.8 119.5L501.8 89.2M501 90.9L498.6 48.9M504.5 186.9L502.6 161M484.9 86.3L483.5 55.1M498.2 95L495.5 55M508.2 73.2L505.3 31M489.5 86.7L488.9 68.1M485.1 112.4L485.4 91.8M498.9 193.2L494.5 147.7M489.3 120.6L488 90.5M496.6 234.1L492.6 199.2M502.5 53.4L500.9 12.4M489 92.6L489.3 62.5M502.5 180.4L498.6 144M502.7 198.8L500.7 173.5M504.3 113L502 66M477.3 161.7L476.3 133.8M508.9 77.3L506.7 53.4M487.9 137L487.8 99.8M505.8 107.4L504.1 64.6M502.2 59.6L499.6 33.1M478.8 123.7L477.2 83.8M468.3 112.9L470.2 70.1M467.9 93.9L469.7 46M487.7 136.5L487.9 99.3M511.3 130.8L508.3 84.7M498.2 173.4L496.6 143.9M504.8 35.8L501.2 2.8M477 161.5L478.1 129.7M483.6 135.9L482.9 105.8M480.6 75.7L479.7 52.8M507.7 50.8L503.9 7.6M473.6 72L474 51.6M492.6 88.3L491.2 55.7M488.9 201.2L488.5 159.8M509.3 72.1L507.4 40.8M475 219.3L474.1 178.7M479 97.2L478.2 72.4M479.6 16L480.3 -22.6M516.6 104.1L513.6 78.4M498.7 67.5L496.6 41.4"/>
<path fill="none" stroke="#9aa1a7" stroke-opacity="0.85" stroke-width="2.0" stroke-linecap="round" d="M481.2 81.8L479.8 34.2M504.9 202.1L499.2 156.1M513.3 77.9L511.5 59.7M486.5 104.4L484.2 62.1M478.5 148.5L479.6 110.9M484.2 18.5L483.6 -23.9"/>
<path fill="none" stroke="#f4f5f6" stroke-opacity="0.85" stroke-width="2.0" stroke-linecap="round" d="M507.4 32.4L505.1 11.9M494.4 220.2L491.5 183.2M495.5 175L495 155.3M495.6 237.4L491.4 195.7M491.5 102.4L490.3 74.1M486.5 97L485.1 56.6M516.1 75.9L513.4 54.3M508.8 110.9L506.2 73.6M498.5 58.5L497.7 26.1M482.4 99L482.7 77.6M498.5 214.1L494.4 174.1M478.3 164.2L477.7 140.1M499 192.8L497.8 163M500.6 218.6L497.7 172.5M498.2 204.2L493.4 160M497 192.3L495.9 160M503.7 90.4L501.1 61.1M508.7 68.5L506.1 42.6M478.5 112.3L477 65M499.9 156.9L498.5 119.6M500.9 182.1L498.2 149.1M480.3 124.6L478.9 91.6M471 205.6L472.4 165.5M482.5 141.2L481.8 108.8M508.8 114L505.8 75.1M497.8 120.4L495 74.6M473.4 204.5L474.4 165.2M508.7 92.8L505.5 46.3M478.9 162.5L477 117.8M478 109.6L476.8 75.4M496.5 218L493.7 184.2M495.8 99.3L492.7 61M495.6 182.1L492.5 147.1M498.2 192.7L494.1 155.8M468.8 68L470.8 35.2M492.5 188.6L490.5 165.4M480.3 56.3L479.9 25.1M503.6 102.4L501.9 60.2M506.3 96.3L503.9 70.3"/>
<path fill="none" stroke="#9fa6ab" stroke-opacity="0.85" stroke-width="2.0" stroke-linecap="round" d="M470 209.3L471.4 184.5M470.2 86.1L472.8 43.4M470.4 67.1L471.7 22.9M505.8 170.5L504.4 152.2M513 144L508.1 100.7M501.5 207.5L495.9 162.4M516.8 120.3L514 83.7M512.1 107L510.4 80.4M476.8 22.3L477.9 -10.5M493.5 237.3L491 210.5M492.8 240.2L490.3 214.1M466.5 100.6L468.4 54.5M515.5 99.1L513.5 74.9"/>
<path fill="none" stroke="#3a2f30" stroke-opacity="0.9" stroke-width="2.2" stroke-linecap="round" d="M500.6 21.4L499.3 -2.1M479.2 49.9L479 35.8M481.4 171.5L480.9 148.5M489.2 62.3L488.1 42.7M479.5 9L480.4 -16.2M490.2 63.2L490.3 45.2M499.9 27L497.8 1.1M503.9 141.7L502.7 113.7M477.7 44.4L478.8 19.4M498.5 158.1L497.9 136.2M477.6 29.6L479 6.1M505.2 129.2L504.3 110M500.8 50.2L499.5 23.1M494.4 34L493.3 15.2M502.7 136.5L502.1 117.8M482.5 56.3L482.2 40.1M496.4 22.2L495.9 -5.9M494.5 22.7L492.9 -0.7M479.1 24.9L480.3 -1.6M499.3 22.7L498.2 -4.3M486.5 54.5L486.2 36.9M491.5 173.9L490.6 156.6M498.9 28.2L496.5 0.5M481.6 53.5L481.6 38.4M482 158.3L480.8 138.7M482.5 64.7L482.5 45.3M490.2 143.9L489.8 114.9M481.1 22.9L481.8 6.7M485.2 5.3L484.9 -11.5M500.8 145.2L500 124.3M497.6 57.7L496.5 37.4M498.1 115.1L496.7 94M497.3 46.1L495.4 24.9M477 33.9L477.2 19M493.9 42.1L493.4 26.9"/>
<path fill="none" stroke="#e6e9eb" stroke-opacity="0.85" stroke-width="2.0" stroke-linecap="round" d="M477.1 114.4L478.1 76.2M489.6 83.2L488.8 40.1M474 89.5L475.1 68.5M485 153.9L484.1 108.3M483.8 91.2L483.6 56.1M492.8 224.3L491.4 205.2M506.7 58.8L503.1 17.5M474 96.8L474.6 62.9M485.3 151.2L484.3 119.4M482.8 142.3L482.4 123.5M511.3 87L509.2 51.2M499.2 100.3L497.4 75.9M507.6 85.9L505.7 63.9M499.2 111.2L498.4 80.5M499.6 119L496.8 84.2M487.9 110.8L487.3 81.1M505.9 110.5L501.4 70.2M493.4 105.7L492.1 81.5M477.1 173.7L476.6 137.6M494 182.2L493.2 161.5"/>
<path fill="none" stroke="#56626a" stroke-opacity="0.9" stroke-width="2.2" stroke-linecap="round" d="M469.4 132.2L469.3 104.8M475.6 208.1L475.6 185.8M494.6 196.4L493.9 178.1M478 218.4L477.5 202.5M487.1 235.5L486.2 219.1M494.2 198.7L491.9 177.3M478.6 207.5L478 187M474.1 214.8L474 199.7M489.3 228.2L488.7 210.5M490.7 218L488.7 188.6M490.8 233.5L488.7 206.6M472.9 248.8L473.5 226.5M476.4 214.2L475.8 184.4M467.4 160.1L467 136.4M470.6 139.8L471.4 122.4M490.3 198.6L489.5 171M470.4 166.9L471.1 151.9M467.7 184L468.8 156.9M474.5 248.9L474.6 231M491.1 200.1L489.5 178.7M490.9 219.1L489.4 191.3M468.6 157.1L469.7 138.7M473.2 228.6L474.3 208.1M477.5 222L477.5 198.1M477.3 229.1L477.1 199.3M487.8 250.3L485.8 227.5M475.2 197.5L474.3 169.1M468.2 141.7L468.3 121.4M475.7 202.6L475.7 173.9M488 234.1L486.4 207.1M493.4 227.2L492.5 210.4M474.7 249.2L474.6 227.9M475.7 204L476 188.2M490.1 224.8L488.9 198.8M486.8 190.4L486 163.8M467.4 177.2L469.2 147.8M473.8 249.8L473.6 227.3M489.5 228L488 212.1M466 122.8L465.9 104.2M489 231.2L488 208.6M475.1 245.7L476 228.9M482.7 192.9L481.1 165.4M475 222.9L476 203.9"/>
<path fill="none" stroke="#67737b" stroke-opacity="0.9" stroke-width="2.2" stroke-linecap="round" d="M474 174.4L473.7 160.1M475.2 177L474.7 161.6M473.2 145L473.7 117.2M473.7 175.2L474.3 151.5M468.7 190.8L469.5 171.7M474.1 127.4L473.4 108.5M473.8 164.7L474.1 142.8M475.3 182.2L475.6 162.3M473.8 161.1L473.4 134.5M473.7 144.2L473.5 129.1M465.3 187.6L466.5 158.2M475.1 177.8L475.5 151.7M471.5 193.8L471.7 167.9"/>
<path fill="none" stroke="#434f58" stroke-opacity="0.9" stroke-width="2.2" stroke-linecap="round" d="M482.1 223.7L481.8 200.6M482 225.3L481.2 204.7M481.1 243.9L480.9 221.3M478.3 229.3L477.6 210M479.5 258.2L479 235.1M477.9 232.9L477.9 213.9M478.8 234L478.7 213.9M485.7 250.1L484.1 231.9M484.4 216.2L483.8 190M480.6 252.8L479.4 238.4M488.7 220.8L486.5 191.1M485.7 257.8L484 230.8M480.7 239.1L480.3 223.4M481.1 228.7L480.4 211.8M481 248.9L480.9 224.4M490.5 199.3L488.4 175.4M479.6 239.9L479.8 219M483 252.7L480.9 225.2M486.6 230.6L485.3 211.7M487.8 193.2L487.7 177.3M482 199.4L481.7 180.2M485.6 235.7L484.4 211.7"/>
<path fill="none" stroke="#b9bfc4" stroke-opacity="0.85" stroke-width="2.0" stroke-linecap="round" d="M506.2 97.2L505 68.6M486 140.4L485.4 121.9M466.5 107.5L468.5 74.3M473.3 62.4L475.4 19.3M502 82.8L500.5 41.4M502.2 69.4L499.4 24.8M477.9 155.4L477.8 131.5M471.9 204.4L473.7 163.4M507.7 95.3L505.3 52.5M476.4 128.4L477.2 99.5M503.2 79.6L499.9 46.5"/>
<path fill="none" stroke="#8b9298" stroke-opacity="0.85" stroke-width="2.0" stroke-linecap="round" d="M510.6 155.1L507 129.3M511.5 53.9L507.2 13.8M473.9 55.4L475.1 30M472 67L472 28.2M470.6 58L471.3 17M481.6 7L481.4 -21.8M514.9 74.8L511.8 47.1M471.1 201L471.9 167.8"/>
<path fill="none" stroke="#d3d7da" stroke-opacity="0.85" stroke-width="2.0" stroke-linecap="round" d="M496.5 203.9L494.4 156.8M478.8 192.9L479.3 159.7M499.2 102.1L498.5 81.9M469.2 76L470.7 42M511.7 150.7L507.7 117.3M510.3 172.7L506.3 134.5M472.9 215.4L473.7 182.5M497.9 72.8L495.4 36.8M513.5 125.7L510.9 106.3M490.3 94L488 61.9M499 202.4L497 165.7M477.7 73.5L478.4 44M473.6 129.4L474.7 101.9M469.2 73L469.3 39.4M470 80.7L472.8 33M478.1 117.4L478.4 78.5M510.4 95.4L506.5 51.6M494.9 207.8L493.3 177.4"/></g>
<path fill="#9a958c" fill-opacity="0.8" d="M261.2 303.6L47.4 284.2L-44.4 282.8L47.2 286.7L261 306.1ZM255.1 303.9L32.8 292.8L-14.6 290.9L32.6 295.3L255 306.5ZM256.5 304.5L37.3 302.7L-17.2 304.4L37.3 306.2L256.5 308.1Z"/>
<path fill="#d2b274" fill-opacity="0.8" d="M258.2 303.9L37.7 288.3L-26.2 287.7L37.6 290.7L258 306.3Z"/>
<path fill="#d2b274" fill-opacity="0.97" d="M256.2 304.2L21.2 294.3L-40.5 291.1L21.1 296.6L256.1 306.5ZM260.4 308.9L100.1 332.5L60.5 342.9L100.6 335.4L260.9 311.7Z"/>
<path fill="#9a958c" fill-opacity="0.97" d="M258.7 303.5L36.5 289.8L-28.2 287.3L36.3 292.8L258.5 306.5ZM261.3 305L28.2 308.7L-35.5 310.6L28.2 312.2L261.3 308.5Z"/>
<path fill="#77736d" fill-opacity="0.97" d="M260.3 304L43 293L-44.4 292.9L42.8 296.1L260.1 307Z"/>
<path fill="#57534e" fill-opacity="0.9" d="M257.7 304.8L31.7 299.9L-44.2 298.3L31.7 302L257.7 306.9Z"/>
<path fill="#d2b274" fill-opacity="0.9" d="M259.5 304.8L32.9 303.7L-23.3 304.1L32.9 306.7L259.5 307.7Z"/>
<path fill="#8c8882" fill-opacity="0.8" d="M259.5 304.9L18.8 305.6L-46.9 308.6L18.8 309L259.5 308.3Z"/>
<path fill="#92714e" fill-opacity="0.9" d="M257.2 305.5L74.2 312.1L32 313.2L74.3 315L257.3 308.4Z"/>
<path fill="#b9b2a4" fill-opacity="0.97" d="M257.9 305.7L50.5 307.7L-8.3 315.2L50.6 310.7L258 308.7Z"/>
<path fill="#9a958c" fill-opacity="0.9" d="M260.3 306L15.6 317.3L-32.2 320.1L15.8 320.1L260.4 308.8Z"/>
<path fill="#3f3c39" fill-opacity="0.97" d="M257.9 306.9L40.4 323.6L-6.7 326.4L40.5 325.8L258 309.1ZM257.9 307.1L19.6 327.7L-28.3 334.7L19.9 330.7L258.1 310ZM258.4 308.3L34.9 345L-8.5 352.2L35.4 348.4L258.9 311.7Z"/>
<path fill="#c49a55" fill-opacity="0.97" d="M256.3 306.9L32.4 323.6L-40.5 329.5L32.5 325.9L256.5 309.3Z"/>
<path fill="#d8d2c4" fill-opacity="0.9" d="M261.6 307L24.5 319L-47.1 330.4L24.7 321.5L261.8 309.4ZM259.4 308.1L89.7 325.4L33 339.2L90.1 328.3L259.8 311Z"/>
<path fill="#a87644" fill-opacity="0.9" d="M256.6 307.3L38.6 328.6L-8.4 338.5L38.9 332.1L257 310.8ZM259.6 313L53.3 382.2L-10.6 410.7L54.2 384.9L260.5 315.7Z"/>
<path fill="#92714e" fill-opacity="0.8" d="M256.3 307.9L52.2 332.9L-32.1 344.1L52.5 335.5L256.6 310.5ZM260.3 309.2L51.6 345.1L-28.5 365.6L52.2 348.4L260.9 312.5ZM255.3 311.5L31 373.4L-12.6 386.8L31.6 375.5L255.9 313.6Z"/>
<path fill="#c49a55" fill-opacity="0.8" d="M257.7 308.6L21.6 336.8L-31.4 348.9L21.9 338.9L258 310.6Z"/>
<path fill="#3f3c39" fill-opacity="0.8" d="M258.8 308.8L72.2 334.6L-4.8 349.7L72.6 336.9L259.1 311.1Z"/>
<path fill="#8c8882" fill-opacity="0.97" d="M255.1 308.9L85.3 339.6L29.4 352L85.9 342.9L255.7 312.2ZM260.3 312.5L48.3 384.7L1.6 403.6L49.5 388L261.5 315.8Z"/>
<path fill="#5b5752" fill-opacity="0.9" d="M255.3 310.1L43.6 354.9L-8.6 370.8L44.3 357.8L256 313ZM257.2 310.4L70.5 354L11.2 372.2L71.3 357.2L258 313.6Z"/>
<path fill="#a87644" fill-opacity="0.97" d="M260.9 310.1L48.2 361.9L-32.9 381.2L49 365.2L261.6 313.4ZM255.4 313.5L65.6 384.7L22.6 407.8L66.9 388L256.7 316.8Z"/>
<path fill="#a04f30" fill-opacity="0.97" d="M256.5 310.7L75.6 351.9L22.3 369L76.3 354.4L257.1 313.2ZM257.6 312.9L86.6 372.7L32.7 394.8L87.7 375.7L258.6 315.9Z"/>
<path fill="#9c7244" fill-opacity="0.9" d="M260 311.3L71.9 359.7L21.4 374.2L72.5 361.7L260.5 313.4Z"/>
<path fill="#9c7244" fill-opacity="0.8" d="M260.8 311.7L50.4 369.1L-15.9 392.8L51.1 371.7L261.6 314.3Z"/>
<path fill="#92714e" fill-opacity="0.97" d="M257.1 311.7L68.1 366.9L-8 393.4L69 369.8L258 314.7Z"/>
<path fill="#3f3c39" fill-opacity="0.9" d="M260.8 312.3L94.9 367.1L30.3 389.4L95.8 370.1L261.8 315.3Z"/>
<path fill="#a87644" fill-opacity="0.8" d="M258.6 314.4L115.2 368L73.8 389.4L116.1 370.1L259.5 316.5Z"/>
<path fill="#c0484a" fill-opacity="0.85" d="M258.5 316.9L106.8 386.9L9.6 441.1L107.9 389L259.5 319.1Z"/>
<path fill="#c08a45" fill-opacity="0.85" d="M258.4 317.9L178.9 357.9L103.6 405.3L180.2 360.1L259.6 320.1Z"/>
<path fill="#b8423c" fill-opacity="0.8" d="M258.6 316L97.1 366.8L29.7 394.2L97.8 368.9L259.4 318Z"/>
<path fill="#d9c9c0" fill-opacity="0.8" d="M259.1 301L127.4 290.8L39.9 280.6L127.2 292.8L258.9 303Z"/>
<path d="M255.4 320.3L253.9 320.9L251.9 321.7L249.6 322.6L246.9 323.6L244 324.8L240.9 326L237.8 327.3L234.8 328.6L231.8 330L229.1 331.5L226.6 332.8L224.1 334.2L221.7 335.7L219.3 337.2L216.9 338.8L214.5 340.4L212.2 342.2L210 344L207.8 346L205.7 348L203.7 350.1L201.8 352.3L200 354.5L198.3 356.8L196.6 359.1L195 361.5L193.6 363.9L192.2 366.3L190.9 368.8L189.6 371.2L188.5 373.7L187.4 376.3L186.5 378.9L185.6 381.5L184.8 384.2L184.1 386.9L183.5 389.5L183 392.1L182.7 394.7L182.4 397.3L182.2 399.9L182.2 402.5L182.3 405.1L182.5 407.6L182.8 410L183.2 412.4L183.6 414.7L184.2 417L184.9 419.2L185.7 421.4L186.5 423.5L187.5 425.6L188.5 427.7L189.6 429.7L190.9 431.7L192.2 433.6L193.5 435.4L195 437.2L196.5 439L198.1 440.6L199.8 442.2L201.6 443.8L203.4 445.4L205.3 446.8L207.3 448.3L209.4 449.7L211.5 451L213.7 452.2L216 453.3L218.3 454.3L220.7 455.3L223.1 456.1L225.5 456.9L228 457.6L230.6 458.2L233.2 458.7L235.8 459.1L238.5 459.4L241.1 459.5L243.8 459.6L246.6 459.5L249.3 459.3L251.9 458.9L254.5 458.5L257.1 457.9L259.5 457.3L262 456.7L264.4 456L266.7 455.3L269.1 454.7L271.5 453.9L273.9 453.1L276.3 452.2L278.7 451.4L281.1 450.4L283.4 449.5L285.7 448.6L288 447.6L290.3 446.7L292.5 445.8L294.8 444.8L297.2 443.9L299.5 442.9L301.8 441.8L304.1 440.8L306.4 439.7L308.6 438.6L310.8 437.6L313 436.5L315.2 435.5L317.4 434.5L319.5 433.4L321.6 432.4L323.7 431.4L325.7 430.4L327.7 429.4L329.7 428.4L331.6 427.5L333.6 426.6L335.5 425.7L337.4 424.5L339.5 423.4L341.6 422.2L343.8 421L345.9 419.8L347.9 418.8L349.8 417.8L351.5 416.9L353 416.1L354.1 415.5L353.9 415.1L352.7 415.2L351.1 415.3L349.2 415.5L347 415.7L344.7 415.9L342.3 416.1L339.8 416.4L337.3 416.7L334.8 417L332.5 417.3L330.3 417.9L328.2 418.6L326 419.3L323.8 420L321.7 420.8L319.5 421.5L317.4 422.3L315.2 423L313 423.8L310.8 424.5L308.5 425.2L306.2 426L303.9 426.8L301.5 427.5L299.2 428.3L296.8 429.1L294.4 429.8L292.1 430.6L289.8 431.4L287.5 432.2L285.1 433L282.8 433.8L280.5 434.6L278.2 435.4L275.9 436.2L273.7 436.9L271.5 437.6L269.3 438.2L267.1 438.8L264.9 439.3L262.7 439.9L260.4 440.4L258.2 440.9L256 441.3L253.8 441.7L251.7 442L249.7 442.2L247.8 442.4L246 442.4L244.2 442.4L242.3 442.2L240.4 442L238.5 441.7L236.6 441.3L234.6 440.8L232.7 440.3L230.9 439.7L229 439.1L227.3 438.4L225.7 437.7L224.1 436.9L222.6 436L221.1 435.1L219.6 434.1L218.2 433.1L216.8 432L215.5 430.9L214.2 429.7L213 428.5L211.9 427.4L210.9 426.2L209.9 425L209 423.8L208.2 422.6L207.4 421.3L206.7 420.1L206 418.7L205.4 417.4L204.9 416L204.3 414.6L203.9 413.1L203.4 411.6L203 410L202.6 408.5L202.2 406.9L202 405.3L201.8 403.6L201.6 402L201.6 400.3L201.6 398.7L201.7 396.9L202 395L202.2 393L202.6 391L203.1 388.9L203.6 386.9L204.2 384.8L204.8 382.7L205.6 380.7L206.4 378.8L207.2 376.8L208.2 374.9L209.2 372.9L210.3 370.9L211.5 369L212.8 367.1L214.1 365.2L215.4 363.4L216.8 361.6L218.3 360L219.8 358.4L221.4 356.8L223.1 355.2L224.9 353.7L226.8 352.1L228.7 350.5L230.7 349L232.7 347.5L234.8 346L236.9 344.5L239.1 343.1L241.5 341.7L244.1 340.2L246.9 338.7L249.7 337.2L252.3 335.9L254.9 334.6L257.1 333.5L259.1 332.5L260.6 331.7Z" fill="#4d575e"/>
<path d="M255.9 321.5L254.4 322.1L252.5 322.9L250.1 323.8L247.4 324.8L244.5 326L241.5 327.3L238.5 328.6L235.5 329.9L232.5 331.3L229.9 332.8L227.4 334.2L225 335.6L222.6 337L220.2 338.5L217.9 340.1L215.5 341.8L213.3 343.5L211.1 345.3L209 347.2L207 349.2L205 351.3L203.2 353.4L201.4 355.6L199.7 357.8L198.1 360.1L196.6 362.4L195.1 364.8L193.8 367.2L192.5 369.6L191.3 372L190.2 374.4L189.2 376.9L188.2 379.5L187.4 382.1L186.6 384.7L186 387.3L185.4 389.9L184.9 392.4L184.6 395L184.3 397.5L184.2 400L184.1 402.5L184.2 404.9L184.4 407.3L184.7 409.7L185.1 412L185.6 414.3L186.1 416.5L186.8 418.6L187.5 420.7L188.4 422.8L189.3 424.8L190.3 426.8L191.4 428.7L192.5 430.6L193.8 432.5L195.1 434.3L196.5 436L198 437.7L199.5 439.3L201.1 440.9L202.8 442.4L204.6 443.9L206.5 445.4L208.4 446.8L210.4 448.1L212.5 449.4L214.6 450.6L216.8 451.7L219.1 452.7L221.3 453.6L223.7 454.4L226.1 455.2L228.5 455.8L231 456.4L233.5 456.9L236.1 457.3L238.7 457.6L241.3 457.8L243.9 457.9L246.5 457.8L249.1 457.6L251.7 457.3L254.2 456.8L256.7 456.3L259.2 455.7L261.6 455.1L264 454.5L266.3 453.8L268.6 453.1L271 452.4L273.5 451.6L275.9 450.8L278.2 449.9L280.6 449L282.9 448.1L285.2 447.2L287.5 446.2L289.8 445.3L292 444.4L294.3 443.5L296.7 442.5L299 441.6L301.3 440.6L303.6 439.5L305.9 438.5L308.1 437.4L310.4 436.4L312.6 435.4L314.8 434.4L316.9 433.4L319.1 432.4L321.2 431.4L323.2 430.4L325.3 429.4L327.3 428.4L329.3 427.5L331.3 426.6L333.3 425.7L335.2 424.9L337.2 423.8L339.3 422.7L341.4 421.6L343.6 420.5L345.8 419.5L347.9 418.5L349.8 417.5L351.5 416.7L352.9 416L354.1 415.5L353.9 415.1L352.7 415.3L351.1 415.5L349.2 415.7L347.1 416L344.8 416.3L342.4 416.6L340 417L337.5 417.3L335.1 417.7L332.8 418.1L330.6 418.8L328.5 419.5L326.4 420.2L324.2 421L322.1 421.7L319.9 422.5L317.8 423.3L315.6 424.1L313.4 424.8L311.2 425.6L309 426.4L306.7 427.2L304.4 427.9L302 428.7L299.7 429.5L297.3 430.3L294.9 431.1L292.6 432L290.3 432.8L288 433.6L285.6 434.4L283.3 435.2L281 436L278.7 436.8L276.4 437.6L274.2 438.4L271.9 439.1L269.7 439.7L267.6 440.3L265.4 440.9L263.1 441.4L260.8 441.9L258.5 442.5L256.3 442.9L254.1 443.3L252 443.7L250 443.9L248 444.1L246 444.2L244.1 444.1L242.2 444L240.2 443.7L238.2 443.4L236.2 443L234.2 442.6L232.3 442L230.3 441.4L228.5 440.8L226.6 440.1L224.9 439.3L223.3 438.5L221.7 437.7L220.1 436.7L218.6 435.7L217.1 434.6L215.7 433.5L214.3 432.3L212.9 431.1L211.7 429.9L210.5 428.7L209.4 427.5L208.4 426.2L207.5 425L206.6 423.7L205.7 422.4L205 421L204.3 419.6L203.6 418.2L203 416.8L202.5 415.3L202 413.7L201.5 412.1L201 410.5L200.6 408.9L200.3 407.2L200 405.5L199.8 403.8L199.7 402L199.7 400.3L199.7 398.5L199.8 396.7L200.1 394.7L200.4 392.7L200.8 390.6L201.2 388.5L201.8 386.3L202.4 384.2L203.1 382.1L203.9 380L204.7 378L205.6 376L206.6 374L207.7 372L208.8 370L210 368L211.3 366.1L212.7 364.1L214.1 362.3L215.5 360.5L217 358.8L218.6 357.1L220.3 355.5L222 353.9L223.9 352.3L225.8 350.8L227.7 349.2L229.8 347.7L231.9 346.2L234 344.7L236.1 343.2L238.4 341.8L240.8 340.4L243.5 338.9L246.3 337.4L249.1 336L251.8 334.6L254.3 333.4L256.6 332.3L258.6 331.3L260.1 330.5Z" fill="#6f7c85"/>
<path d="M257 323.7L255.4 324.4L253.5 325.2L251.2 326.2L248.5 327.3L245.7 328.5L242.7 329.8L239.7 331.1L236.8 332.5L234 334L231.4 335.4L229.1 336.8L226.7 338.2L224.4 339.7L222.1 341.2L219.8 342.8L217.6 344.4L215.5 346.1L213.4 347.9L211.4 349.7L209.5 351.6L207.7 353.6L205.9 355.6L204.2 357.7L202.6 359.9L201.1 362.1L199.6 364.3L198.3 366.6L197 368.9L195.8 371.2L194.7 373.5L193.6 375.8L192.7 378.2L191.8 380.7L191 383.1L190.3 385.6L189.7 388.1L189.1 390.6L188.7 393L188.4 395.4L188.1 397.7L188 400.1L188 402.4L188.1 404.6L188.3 406.9L188.6 409.1L189 411.2L189.4 413.3L190 415.4L190.6 417.4L191.3 419.4L192 421.3L192.9 423.2L193.8 425L194.8 426.8L195.8 428.6L197 430.3L198.2 431.9L199.5 433.6L200.8 435.1L202.2 436.6L203.8 438.1L205.3 439.6L207 441L208.8 442.4L210.6 443.7L212.5 445L214.4 446.2L216.4 447.3L218.4 448.4L220.5 449.3L222.7 450.2L224.9 451L227.1 451.7L229.5 452.4L231.8 453L234.2 453.5L236.6 453.9L239.1 454.2L241.5 454.4L243.9 454.4L246.4 454.4L248.8 454.2L251.3 453.9L253.7 453.5L256.1 453.1L258.5 452.5L260.8 451.9L263.2 451.3L265.5 450.7L267.8 450.1L270.2 449.4L272.5 448.6L274.9 447.9L277.2 447L279.5 446.2L281.8 445.3L284.2 444.4L286.4 443.5L288.7 442.6L291 441.7L293.3 440.8L295.6 439.9L298 439L300.3 438L302.6 437L304.9 436L307.2 435.1L309.5 434.1L311.7 433.1L313.9 432.2L316.1 431.3L318.2 430.3L320.3 429.4L322.4 428.4L324.5 427.5L326.5 426.6L328.6 425.7L330.6 424.8L332.6 424L334.6 423.2L336.6 422.3L338.8 421.4L341.1 420.4L343.3 419.5L345.5 418.7L347.7 417.8L349.6 417.1L351.4 416.4L352.9 415.8L354 415.4L354 415.2L352.7 415.4L351.2 415.6L349.3 415.9L347.2 416.3L345 416.7L342.6 417.1L340.2 417.5L337.7 418L335.4 418.5L333.1 419L331 419.7L328.9 420.4L326.7 421.1L324.6 421.9L322.5 422.7L320.4 423.5L318.2 424.3L316.1 425.1L313.9 425.9L311.7 426.7L309.4 427.5L307.1 428.3L304.8 429.1L302.5 430L300.1 430.8L297.8 431.6L295.4 432.4L293.1 433.3L290.8 434.1L288.5 434.9L286.2 435.8L283.8 436.6L281.5 437.4L279.2 438.2L276.9 439L274.7 439.8L272.4 440.5L270.2 441.2L268 441.8L265.8 442.4L263.5 443L261.2 443.5L258.9 444L256.7 444.5L254.5 444.9L252.3 445.3L250.2 445.6L248.1 445.8L246.1 445.9L244.1 445.8L242.1 445.7L240 445.5L238 445.2L235.9 444.8L233.8 444.3L231.8 443.8L229.8 443.2L227.9 442.5L226 441.8L224.2 441L222.5 440.2L220.8 439.3L219.2 438.3L217.6 437.2L216 436.1L214.5 435L213.1 433.8L211.7 432.5L210.4 431.3L209.1 430L208 428.8L206.9 427.5L205.9 426.1L205 424.8L204.1 423.4L203.3 422L202.5 420.5L201.8 419L201.2 417.5L200.6 416L200.1 414.3L199.6 412.7L199.1 411L198.7 409.3L198.3 407.5L198.1 405.7L197.9 403.9L197.8 402.1L197.7 400.3L197.8 398.4L197.9 396.5L198.2 394.4L198.5 392.3L198.9 390.2L199.4 388L200 385.8L200.6 383.6L201.4 381.5L202.2 379.3L203 377.3L204 375.2L205 373.2L206.1 371.1L207.3 369L208.5 367L209.9 365L211.3 363.1L212.7 361.2L214.2 359.3L215.8 357.6L217.4 355.9L219.1 354.2L220.9 352.6L222.8 351L224.8 349.4L226.8 347.9L228.9 346.3L231 344.8L233.2 343.4L235.3 341.9L237.6 340.5L240.2 339.1L242.9 337.6L245.7 336.1L248.5 334.7L251.2 333.4L253.8 332.2L256.1 331.1L258.1 330.2L259.6 329.4Z" fill="#8d9aa3"/>
<path d="M258.1 326.2L256.6 326.9L254.6 327.8L252.3 328.8L249.7 330L246.9 331.2L244 332.6L241.1 334L238.3 335.4L235.6 336.8L233.2 338.3L230.9 339.7L228.6 341.1L226.4 342.6L224.2 344.1L222 345.7L219.9 347.3L217.9 349L215.9 350.7L214 352.4L212.3 354.2L210.5 356.1L208.9 358.1L207.3 360.1L205.8 362.1L204.4 364.3L203 366.4L201.7 368.6L200.5 370.8L199.4 373L198.3 375.2L197.4 377.4L196.5 379.6L195.7 382L195 384.3L194.3 386.7L193.7 389L193.3 391.3L192.9 393.6L192.6 395.9L192.4 398L192.3 400.1L192.3 402.2L192.4 404.3L192.6 406.4L192.9 408.4L193.3 410.4L193.7 412.3L194.2 414.2L194.8 416.1L195.4 417.9L196.1 419.6L196.8 421.4L197.6 423L198.5 424.7L199.5 426.3L200.5 427.9L201.6 429.4L202.7 430.9L204 432.3L205.3 433.7L206.7 435.1L208.1 436.5L209.7 437.8L211.3 439.1L213 440.4L214.7 441.6L216.5 442.7L218.3 443.8L220.2 444.8L222.1 445.7L224.1 446.5L226.2 447.3L228.3 448L230.5 448.6L232.7 449.2L235 449.6L237.2 450L239.5 450.3L241.8 450.5L244 450.7L246.2 450.6L248.5 450.5L250.8 450.3L253.1 449.9L255.4 449.5L257.7 449L260 448.5L262.3 447.9L264.6 447.3L266.9 446.7L269.2 446.1L271.5 445.4L273.8 444.6L276.1 443.8L278.4 443L280.7 442.2L283 441.3L285.3 440.5L287.6 439.6L289.9 438.7L292.2 437.9L294.5 437L296.9 436.1L299.2 435.2L301.5 434.3L303.8 433.4L306.2 432.5L308.4 431.6L310.7 430.7L312.9 429.8L315.1 428.9L317.3 428L319.4 427.1L321.5 426.3L323.6 425.4L325.7 424.5L327.8 423.7L329.8 422.9L331.9 422.1L331.2 420.4L329.1 421.1L327 421.9L324.9 422.7L322.8 423.5L320.7 424.3L318.5 425.1L316.4 425.9L314.2 426.8L312 427.6L309.8 428.4L307.5 429.2L305.2 430.1L302.9 430.9L300.5 431.8L298.2 432.6L295.8 433.5L293.5 434.3L291.2 435.2L288.9 436L286.6 436.9L284.3 437.7L281.9 438.5L279.6 439.4L277.4 440.2L275.1 441L272.8 441.7L270.6 442.4L268.3 443L266.1 443.6L263.8 444.2L261.5 444.8L259.2 445.3L257 445.8L254.7 446.2L252.5 446.6L250.3 446.9L248.2 447.1L246.1 447.2L244.1 447.2L242 447.1L239.9 446.9L237.8 446.6L235.6 446.2L233.5 445.7L231.4 445.1L229.4 444.5L227.4 443.8L225.4 443.1L223.6 442.3L221.8 441.5L220.1 440.6L218.4 439.6L216.8 438.5L215.1 437.3L213.6 436.2L212.1 434.9L210.7 433.7L209.3 432.4L208 431.1L206.8 429.8L205.7 428.4L204.7 427.1L203.7 425.7L202.8 424.2L201.9 422.8L201.1 421.3L200.4 419.7L199.7 418.1L199.1 416.5L198.6 414.8L198 413.1L197.6 411.4L197.1 409.6L196.8 407.7L196.5 405.9L196.3 404L196.2 402.1L196.2 400.2L196.2 398.3L196.4 396.3L196.7 394.2L197 392L197.4 389.8L198 387.6L198.5 385.4L199.2 383.1L200 380.9L200.8 378.8L201.7 376.7L202.6 374.6L203.7 372.5L204.8 370.4L206.1 368.3L207.3 366.2L208.7 364.2L210.1 362.2L211.6 360.3L213.2 358.4L214.8 356.6L216.4 354.9L218.2 353.2L220.1 351.6L222 350L224 348.4L226 346.8L228.2 345.3L230.3 343.8L232.5 342.3L234.7 340.9L237 339.5L239.6 338L242.4 336.6L245.2 335.1L248.1 333.7L250.8 332.4L253.4 331.2L255.7 330.2L257.6 329.2L259.2 328.5Z" fill="#c6d0d6" fill-opacity="0.9"/>
<path d="M314 423.5L297 415.5L323 420Z" fill="#4a545b"/>
<path d="M256 294L272 285L292 279L320 268L348 262L378 256L408 253L440 250L478 250L478 286L440 298L408 308L378 315L348 321L320 324L290 328L268 329L256 325Z" fill="url(#bg)"/>
<path fill="none" stroke="#6c6b66" stroke-opacity="0.8" stroke-width="1.7" stroke-linecap="round" d="M296.3 328.7Q293.3 324.1 297.2 319.4M336.3 317.7Q337.7 310.6 345.1 303.6M353.2 311.6Q358.5 305.9 358.5 300.2M346.3 327.8Q347.2 322.7 350 317.6M377.1 320.7Q378.6 313 383.7 305.2M347.8 269.8Q352.4 263.5 354.8 257.1M442.4 258.3Q448.3 254.2 448.9 250.1M450.6 301.9Q453.3 295.1 453 288.4M360.7 274.9Q358.1 268 361.5 261.1M327.3 329.6Q334.1 323.4 336 317.1M400 266.1Q401.6 259.2 409.8 252.3M380.1 321.3Q385.7 314.4 390.9 307.5M382.4 301.7Q380.7 296.9 387 292M364.2 266.8Q364.5 263.1 363.6 259.4M282.5 293.6Q283.7 287.9 283 282.1M452 258.8Q453.2 251.2 456.3 243.6M451.7 258.4Q450.5 255.3 455.1 252.1M400.3 262Q396.2 257.7 399.6 253.5M258.3 333.5Q262.4 328 266.5 322.6M423.9 301.1Q422 297.3 425 293.5M283.1 326.4Q284.1 321.3 283.4 316.2M318.2 281.7Q317.8 273.7 323.5 265.8M275.6 320.8Q281.2 316.9 278.8 313M328 275.8Q335 270.1 335.8 264.4M408.2 314.1Q405.8 308.6 409.1 303.2M350.1 314.2Q352.3 309.5 351.8 304.8M354.6 281.4Q358.6 273.5 355.5 265.6M393.5 271.9Q396.5 263.9 395.6 255.9M344.4 312.2Q346 308.7 348 305.2M396.4 296.5Q398.2 290.4 405 284.3M314.8 320.7Q312.5 311.9 317.7 303M388.8 309.9Q387.6 305.3 394.4 300.7M424.8 289.1Q427.4 285.5 427.7 281.9M371.6 277.5Q370.6 269.3 372.5 261.1M315.1 329.3Q317.4 325.5 321 321.8M390.8 268.8Q396.6 261.8 399.2 254.9M446.5 291.9Q449.1 288.1 452.4 284.4M327.7 326.4Q328 318.5 334.9 310.6M395.4 272.1Q401.6 266.1 401.2 260.2M352.4 323Q356.6 319.8 355.6 316.7M453.7 268.6Q460.1 262.1 462.8 255.5M428.4 297.6Q427.4 291.5 428.3 285.4M369.9 266.6Q374.4 258.7 372.4 250.8M418.9 302.9Q415.4 295.9 418.6 289M354.3 313.5Q355.9 310.2 357.7 306.9M279.9 295.3Q284 288.4 286.7 281.5M424.8 306.7Q426.3 298.8 429.8 290.9M366.7 323.9Q371 317.4 370.7 310.9"/>
<path fill="none" stroke="#7b7a75" stroke-opacity="0.8" stroke-width="1.7" stroke-linecap="round" d="M262.3 306.5Q262.6 301.4 263.7 296.2M428.3 281.4Q430.1 274.5 429.1 267.6M418.9 281Q417.9 275.7 421.8 270.3M458.3 280.8Q456 275.6 461.4 270.5M411 278.5Q413.3 273.9 415 269.4M417.8 281.7Q416 273.3 417.4 264.9M411.9 288.7Q408.3 284 412.4 279.4M336.7 298.4Q335 293.4 338.6 288.3M437.3 273.5Q441.4 268.3 444.5 263.1M458.4 269.3Q462.7 263.7 460.8 258.1M404.6 286.5Q410.8 278.9 409.6 271.4M292.4 303.6Q293.1 297.1 300.3 290.6M270.7 308.2Q277.9 301.2 280.9 294.1M438.5 281.7Q440 274.3 443.9 266.9M360.1 293.4Q359.7 287.8 364.6 282.3M312.4 296.3Q316.7 288.3 319.8 280.3M345.3 300.5Q349.4 295.9 349.4 291.2M383.7 286.3Q381.8 279.8 383.6 273.2"/>
<path fill="none" stroke="#8d8c86" stroke-opacity="0.8" stroke-width="1.7" stroke-linecap="round" d="M268.3 338.4Q266.1 330 268 321.7M465.9 293.4Q463.3 288.6 465.3 283.9M316.4 282.6Q323.9 276.2 324.7 269.7M403.4 297.4Q405.7 289.2 409.5 281M415.8 259.7Q424.3 253.9 425.4 248.1M370.5 265.6Q371.4 259.7 377.2 253.8M337.7 321.5Q340.7 315.1 341.1 308.6M325 317.5Q326 311.3 324.6 305.1M266 322.1Q264.3 315.3 267.2 308.5M410.8 296.9Q413 291.1 411.1 285.3M403.1 269.3Q401 264.4 402.7 259.4M337.7 272.5Q336.6 263.8 340.1 255.1M327.3 282.4Q323.7 276.4 327 270.3M412 269.3Q414.3 265.3 415 261.3M468.5 265.8Q471.9 259.8 468 253.9M295.2 288.9Q294.3 281.6 296.7 274.3M390.7 260.5Q390.1 254.9 393.5 249.4M306.8 333.2Q305.2 324.9 310.1 316.7M321.1 270.8Q321.1 267.1 327 263.4M273.9 297.1Q276.2 289.5 281.1 281.8M272.6 327.4Q275.5 320.4 276.4 313.5M461.4 299.8Q459.3 291.5 462.5 283.1M349.3 274.3Q352.5 268.6 355 263M414.3 303Q419 299.3 416 295.5M394.9 273.6Q399.2 269.9 397.5 266.1M360.2 268.5Q368.6 262.3 369.6 256M334.3 327.5Q340.6 321.4 343.6 315.3M256.8 329.5Q259.8 322.8 259.1 316.1M407.1 311.8Q404.8 308.2 407.7 304.6M314.7 286Q314.5 282 317.7 277.9M406.5 273Q405.1 266.8 408.5 260.6M422.2 300.2Q426.5 293.8 428.3 287.3M368.4 306.3Q368.6 299.4 370.7 292.4M359.4 275.5Q364 271 366.1 266.5M316.6 324Q321.5 315.2 320.5 306.5M450.7 267Q455.8 262.6 457.8 258.2M438.8 290.9Q436 283.7 437.7 276.4M345.2 276Q346.3 272.7 349.9 269.3M436.5 289.3Q438.1 284.5 440.5 279.6M367.6 264.6Q368 260.8 373.4 257M275.9 326.7Q276.3 320.7 280.4 314.6M397.4 272.3Q403.6 268.1 404.5 263.8M303.6 329.8Q305.7 321.8 306.9 313.8M259.6 322.4Q257.3 314.8 260.9 307.2M433.3 254.9Q435.1 250.8 437.5 246.8M367.3 310.9Q369.7 302.5 370.6 294.1M451.2 259.1Q455.7 251.8 456.2 244.4M434.3 269.6Q436.6 262.6 442.1 255.5M348.2 276Q348.6 270.6 354.4 265.2"/>
<path fill="none" stroke="#d2d2cd" stroke-opacity="0.8" stroke-width="1.7" stroke-linecap="round" d="M303.5 282.9Q301.6 279.4 305.7 275.9M367.5 280Q369.1 273.8 370.1 267.6M270.6 293.7Q272.2 289.7 274.6 285.6M412.3 273Q412 266.9 412.5 260.9M319.2 274.8Q318.8 270.6 323.6 266.4M418.7 257.7Q422.9 250.7 427.7 243.7M315.6 275.1Q314.2 269.9 316.7 264.6M454.9 258.6Q453.3 250.2 458.6 241.9M312.5 292.9Q314.1 285.8 318.5 278.7M362 264.1Q364.1 257.4 372.1 250.7M361 262.6Q365.8 257.5 367.2 252.4M424.7 271.8Q428.7 265 431 258.3M266.8 301.8Q272.2 296.2 274.9 290.6M406.6 276.9Q409.8 269.1 413 261.3M460.1 262.1Q459.9 254 463.1 245.8M417.5 272.8Q419.5 266 427.5 259.2M381.7 262.4Q384.7 256.9 386.3 251.5M451.7 256.3Q456.1 252.6 457.1 248.9M323.5 280.1Q325.3 274.4 328.4 268.7M278.2 296.1Q279.9 291.2 277.6 286.4M379 279.1Q382.9 271.1 385.3 263M361.5 270.4Q361.8 262 364.1 253.7M254.2 304.6Q259.4 300.2 260.3 295.9M361.5 274.1Q359.5 266.5 363.3 258.9"/>
<path fill="none" stroke="#33322f" stroke-opacity="0.8" stroke-width="1.7" stroke-linecap="round" d="M290.5 326.9Q295.1 321.7 297 316.5M433.2 296.4Q434.9 289 433.6 281.6M334.9 321.7Q339.2 314.3 340.2 307M361.6 304.3Q360.2 300.4 361.7 296.5M385.7 307Q386.9 300 392 293.1M312.7 318.9Q313 314.5 314.7 310.1M371.9 311.5Q375.8 308 375.6 304.5M356.6 312.4Q360.4 308.7 358.4 304.9M310.7 321.6Q316.4 315.9 314.7 310.1M283.8 320.1Q291 315 290.6 310M289.1 325.6Q292.7 319.9 290 314.2M259.6 330.5Q264.3 325.4 265.6 320.4M438.1 303.7Q437.4 298.9 438.3 294M359.9 319.1Q361.8 311.5 367.2 303.9M297.6 329.4Q299.6 321.2 301.1 313.1M318.4 326.2Q318.1 323.2 322.3 320.2M364.5 316.9Q364.8 311.1 368.5 305.4M323.9 312.8Q327.3 307.1 323.5 301.3M430.7 303.8Q428 298.7 433.3 293.5M452.1 301.4Q455 293.9 452.4 286.5M372 308.8Q371.8 300.2 374 291.6M398.4 306.7Q397.1 299.7 398.6 292.7M317.7 322.4Q318.5 314 321.6 305.7M415.6 306.1Q418.7 298.3 418.3 290.5M435.7 307.1Q433.4 299.7 434.7 292.3M310.4 321.7Q313.1 314.1 317.2 306.5"/>
<path fill="none" stroke="#9a9993" stroke-opacity="0.8" stroke-width="1.7" stroke-linecap="round" d="M359.1 294.8Q362.9 288.1 369.7 281.4M379 281.3Q383.8 274 388.4 266.8M376.3 289.1Q381.5 285.8 380.7 282.6M262.4 307.5Q265.5 304 267.5 300.5M456.6 272.6Q457 267 457.8 261.5M385.8 293.9Q383.1 289.6 387.1 285.3M265.5 314.5Q271.3 308.7 269.8 302.8M427 283.8Q429.2 279.7 429.3 275.6M325.7 307.5Q321.6 300.6 325.3 293.6M406.7 283.7Q409 278.4 411.3 273.1M408.3 284.7Q408 277.8 414.4 270.8M296.7 301.8Q301.4 297 301 292.2M338.5 299.6Q341.8 290.8 337.7 282.1M335.7 286.5Q336.8 282.9 338.6 279.3M456.7 279.2Q458.6 274.5 460.2 269.8M371.1 281.8Q374.5 278 371 274.2M292.9 302.7Q297.2 298 298.9 293.3M366.8 280.1Q368.7 275.6 370.6 271.2M377.9 297.3Q380.2 288.9 378.7 280.4M391.9 284.1Q391.7 276.3 391.8 268.5M268.3 313.5Q273.5 306.3 271 299.1"/>
<path fill="none" stroke="#b8b8b2" stroke-opacity="0.8" stroke-width="1.7" stroke-linecap="round" d="M270.2 301.5Q272.3 295.5 270.2 289.4M359.5 272.4Q357.8 266.6 361.9 260.7M430.8 266.5Q432.2 257.9 430.8 249.3M461 261.7Q467.5 257.5 466 253.3M418.7 263.7Q423.8 255.6 422.7 247.6M361.6 278.4Q366 272.7 363.8 267.1M298.1 296.8Q296.4 291.6 297.3 286.5M308.6 291.1Q308.6 285.6 309.5 280.2M318.8 287.2Q316.1 282.3 319.6 277.5M401.7 274.6Q402.8 269.7 407.2 264.8"/>
<path fill="none" stroke="#c4c4be" stroke-opacity="0.8" stroke-width="1.7" stroke-linecap="round" d="M459 280.7Q465 273.7 466.2 266.7M371.1 296.2Q376.1 289.4 381.8 282.7M269.4 311.5Q268 303.9 271.5 296.2M290.1 305.6Q288.6 302.2 292.5 298.8M415.2 293Q420 286 421.1 279.1M357.6 297.7Q357.4 290.6 362.9 283.4M311.2 311.7Q312.8 303 312.2 294.2M296 306.8Q295.9 302.6 301.8 298.4M354 299.8Q359.5 295.5 360 291.2M274.5 309.9Q277.5 306.3 276.8 302.7M375.1 289.7Q371.8 282.6 374.3 275.6M372.1 302.9Q368.5 294.4 372.1 285.8M403.5 283Q402.9 278.5 402.9 273.9M442.7 287.6Q448 279.7 448.4 271.8"/>
<path fill="none" stroke="#5d5c58" stroke-opacity="0.8" stroke-width="1.7" stroke-linecap="round" d="M431 272.7Q435.1 266.5 438.4 260.3M398 291.6Q399.4 286.6 404.1 281.7M322.8 309.2Q321.3 303.2 323.1 297.2M268.9 310.8Q272.9 306.1 270 301.5M457 280.7Q460.6 274.3 463.1 268M402.7 288.9Q406.3 284.8 403.2 280.8M376.9 289.5Q379.1 283 378.5 276.4M295.2 308.9Q294 300.4 300 291.8M318 296.7Q315.9 290.6 317.9 284.6M371.8 295Q379.8 287.3 379.8 279.6M355 298.5Q355.9 291.6 353.9 284.8M328.4 306.7Q326.1 300.9 331.4 295.1M437.9 281Q438.7 273.4 443.3 265.7M315.3 294.8Q318.4 289.9 319.5 285M261.3 310.2Q268.1 306.6 267.2 303M273.9 316.3Q278.1 310.3 277.8 304.4M415 291.8Q417.3 286.6 418 281.5"/>
<path fill="none" stroke="#504f4b" stroke-opacity="0.8" stroke-width="1.7" stroke-linecap="round" d="M342.8 312.2Q340.2 305.9 344.3 299.6M319 313.9Q325.6 307.7 328.4 301.6M254 323.1Q259.1 319 259.4 315M343.9 313.8Q346.5 309.4 345.7 305M362.6 319Q365.8 314 368 308.9M272.5 320.7Q273.5 314.2 275.4 307.7M305.2 328.5Q307.8 324.2 304.7 320M343.6 325Q344.9 318.5 342.6 312.1M395.9 317.1Q400.6 310.8 405.4 304.5M286 329.1Q282 322.2 284.9 315.3M323.3 317.6Q325.1 310.8 332.2 304.1M296.2 323.4Q300 317.5 300.4 311.5M305.1 327.9Q308.4 324.6 309.1 321.3M272 333.3Q277.2 326.5 281 319.8M274.2 336.3Q283.2 329.4 285.2 322.5M391.9 312.6Q397.9 305.3 399.9 298"/>
<path fill="none" stroke="#e8e8e4" stroke-opacity="0.8" stroke-width="1.7" stroke-linecap="round" d="M443.4 264.4Q445.7 258.4 444.7 252.4M361.6 275.7Q364.4 269.8 362.1 264M285.8 293.3Q281.7 288.2 285.3 283.2M453.2 269.8Q457.4 261.5 456 253.2M309.5 288.5Q305.8 280.4 309.3 272.2M299.9 286Q303 280.5 304.8 275M371.8 264Q370.3 259.8 375.7 255.7M371 271.7Q374.3 266.7 375.9 261.8M365.5 266.3Q369.4 258.9 374.7 251.6M374.6 268.6Q373.2 264.9 374.3 261.2M294.2 287.8Q292.7 281.1 298.9 274.4M445.8 270.3Q448.3 263.2 446.1 256.1M312.8 277.6Q316.9 272.9 317.3 268.2M402.8 270.5Q404.8 266.5 408.4 262.4M444.4 266Q442.7 258.5 445 251M446.6 259.3Q450.2 253.6 446.7 248M458.8 253.7Q457.7 249.1 464.3 244.6M327.7 279.6Q333.1 276.2 330.8 272.8M366.2 273.4Q369.4 269.7 369 266M366.9 271.2Q371.4 263.7 372.5 256.2"/>
<path fill="none" stroke="#4a4946" stroke-opacity="0.8" stroke-width="1.7" stroke-linecap="round" d="M390.9 283.4Q395.3 277.3 395.8 271.2M335 306.4Q336.8 301.7 338.2 297.1M256.7 315.6Q253.8 310.1 257.8 304.6M395.2 286.4Q395.9 282.7 400.1 279M348.7 288.5Q348.4 283.6 355.2 278.7M294.3 312.1Q294 306.6 298.4 301.2M295.3 302.3Q297.5 294.6 299.5 286.9M290.9 308.7Q287.2 302.5 290 296.4M334 287.4Q331.4 283.2 333.8 279M394.8 292.6Q399.9 289.4 398.5 286.1M437.5 273.4Q436.3 266.5 437.4 259.6M278.7 303.5Q280.8 298.4 285.7 293.2M379.8 286Q382.1 281 380.4 275.9M291.9 310.5Q293.1 305.2 293.8 299.9M406.2 280.1Q402.6 274.1 406.6 268.2M426.8 275.5Q427.5 267.4 426.3 259.2"/>
<path fill="none" stroke="#3f3e3b" stroke-opacity="0.8" stroke-width="1.7" stroke-linecap="round" d="M297.2 330.8Q297.5 326.2 301.7 321.7M282.5 324.5Q280 320.5 284.9 316.5M378.7 309.2Q382.8 303.6 385.5 298M372.9 303.4Q374.7 296.5 380.7 289.6M426.6 296.4Q426.1 291.3 433 286.3M345.9 304.9Q343.9 301.6 349.6 298.2M448 300.2Q452.9 294.3 452.1 288.4M420.4 295.8Q421.8 290.9 419.6 286M319 328.4Q316.8 319.9 318.4 311.5M309.5 314.4Q311.8 309.4 314.3 304.3M463.1 286Q465.6 279.9 470.2 273.8M404.4 305.4Q405.4 300.3 406.1 295.3M309.2 320.3Q310.6 314.3 312.6 308.4M301.4 328.2Q300.9 320.9 305.9 313.5M307.7 318.1Q305.3 310.6 309.7 303.1M416.8 291.3Q418.7 288.1 420.4 285M397.4 317.5Q399.9 309.8 403.2 302.2M290.2 331.7Q295.2 324 297 316.3M257.4 329.5Q262.3 325.1 261.8 320.8M445.6 289.3Q450 284.3 449.1 279.2M367.3 303.4Q367.1 299.4 366.9 295.4"/>
<path fill="none" stroke="#a0a5a8" stroke-opacity="0.7" stroke-width="1.0" stroke-linecap="round" d="M305.5 323.9q-2.5 1.9 -9.1 3.8M261.6 324.9q2.6 3 1.1 6M375.6 313.5q-0.1 2.6 -4.2 5.2M343 319.5q0 2.6 -3.9 5.2M275.6 326.7q1.6 2.9 -0.7 5.8M275.4 326.7q2.9 2.2 1.7 4.4M314.3 322.8q-0.2 2.5 -4.4 5.1M331 320.8q3.6 1.4 3.1 2.8M265 326q4.1 4.1 4.2 8.2M370.9 314.4q2.9 4.8 1.9 9.7M335.4 320.4q0.7 4 -2.5 8M410 254.8q0.3 -3.2 -3.4 -6.4M416 254.2q5.1 -3.6 6.1 -7.1M380.9 257.7q0.1 -3.6 -3.9 -7.3M421.3 253.8q-0.4 -1.5 -4.9 -3M395.2 256.3q5.2 -2.6 6.5 -5.2M321.9 269.6q3.1 -4.4 2.3 -8.8M320.5 269.9q-0.1 -1.7 -4.3 -3.3"/>
<path fill="none" stroke="#6c6b66" stroke-opacity="0.7" stroke-width="1.0" stroke-linecap="round" d="M284.9 326.2q4.6 1.3 5.1 2.7M332.9 320.6q4.8 4.5 5.6 9M394.9 309.1q4.9 1.7 5.8 3.4M348.4 318.9q4.7 2.8 5.5 5.6M378 313q3.6 1.5 3.1 2.9M377.5 313.1q-2 1.7 -8 3.3M268.6 327q3.9 4.2 3.8 8.3M388.9 310.5q1.5 2.7 -1 5.4M275.5 326.7q-1.6 2.3 -7.2 4.5M374.5 313.7q3.4 3.5 2.9 6.9M369.6 314.7q-0.8 3 -5.6 6.1M337.3 320.1q5.5 2 7 3.9M396.1 308.8q-0 5.1 -4 10.2M352.7 318.1q-2.2 2.9 -8.3 5.8M277.2 326.6q3.7 3.4 3.4 6.9M345.6 319.3q4.1 3.2 4.2 6.5M333.5 320.6q3.4 3.4 2.8 6.7M388.3 310.6q4.6 3.7 5.2 7.4M325.5 321.4q1.8 2.4 -0.4 4.7M280.8 326.4q1.8 4.2 -0.3 8.4M438 252.2q5 -3.2 6 -6.4M433 252.7q-0.6 -1.5 -5.2 -3.1M277.6 285.3q-0.1 -3.3 -4.2 -6.5M364 260.8q3.5 -2.4 2.9 -4.9M319.8 270.1q5.6 -2.3 7.3 -4.7M347.6 264.1q-1.4 -3.4 -6.8 -6.7M314.8 272q3.1 -1.9 2.1 -3.7M398 256q2.5 -2.1 1.1 -4.3M349.9 263.6q0.7 -1.9 -2.5 -3.8M361.7 261.3q-0.2 -1.5 -4.5 -3.1M429.8 253q-0.5 -1.5 -4.9 -3.1M392.8 256.5q2.5 -2.8 0.9 -5.7M393.7 256.4q2 -2.7 0 -5.3"/>
<path fill="none" stroke="#8d8c86" stroke-opacity="0.7" stroke-width="1.0" stroke-linecap="round" d="M387.6 310.8q-0.1 1.2 -4.2 2.4M343.7 319.5q3.7 3.4 3.5 6.8M309.1 323.5q0.4 1.7 -3.1 3.5M377 313.2q4.8 3.2 5.6 6.3M360.5 316.5q2.6 2.5 1.3 4.9M312.2 323q0.2 1.4 -3.5 2.8M297.9 324.9q-1.7 2.8 -7.5 5.6M260.1 324.4q-0.4 4.9 -4.8 9.9M289.9 326q1.4 2.7 -1.3 5.3M285.8 326.2q4.4 2 4.7 4.1M368.3 314.9q3.8 4.6 3.5 9.1M334.6 320.4q3.8 5.1 3.5 10.2M334.3 320.5q0.2 1.3 -3.6 2.7M290.9 325.9q0.2 1.1 -3.5 2.2M297.3 325q0.1 4 -3.8 8M345.5 319.3q3.7 2.4 3.4 4.7M330.7 320.9q4.7 4.5 5.3 9M369.9 314.6q4.4 2.1 4.7 4.3M408.2 305.9q3.9 4.8 3.9 9.5M429.3 253q5.1 -3.6 6.3 -7.1M347.9 264q5.1 -2.2 6.2 -4.5M423.4 253.6q-1.3 -3.7 -6.7 -7.4M292.2 280.9q2.4 -4.3 0.9 -8.5M431.7 252.8q1.1 -1.8 -1.9 -3.6M434.7 252.5q1.3 -4.5 -1.4 -9.1M383.5 257.5q-0.3 -1.7 -4.5 -3.4M296.1 279.4q5.5 -2.9 7 -5.8M414.4 254.4q0.3 -3.7 -3.4 -7.4M438.4 252.1q1.3 -1.9 -1.4 -3.9M263.7 291.7q4.7 -2.4 5.4 -4.7"/>
<path fill="none" stroke="#4c4b48" stroke-opacity="0.45" stroke-width="2.4" stroke-linecap="round" d="M264 290.5Q273 306.1 273 327.8M281 283.3Q290 302.1 290 327M298 277.6Q307 298.2 307 324.7M315 271Q324 293.8 324 322.6M332 266.4Q341 290.6 341 320.8M349 262.8Q358 287.4 358 318M366 259.4Q375 284 375 314.6M383 256.5Q392 280.6 392 310.7M400 254.8Q409 277.7 409 306.7M417 253.2Q426 274.3 426 301.4M434 251.6Q443 270.8 443 296.1M451 251Q460 267.8 460 290.7M468 251Q477 265.2 477 285.3"/>
<path fill="none" stroke="#e0e1df" stroke-opacity="0.45" stroke-width="2.4" stroke-linecap="round" d="M272.5 285.9Q281.5 303.6 281.5 327.4M289.5 280.8Q298.5 300.3 298.5 325.9M306.5 274.3Q315.5 296 315.5 323.6M323.5 268.2Q332.5 292 332.5 321.7M340.5 264.6Q349.5 289.2 349.5 319.7M357.5 261.1Q366.5 285.7 366.5 316.3M374.5 257.7Q383.5 282.2 383.5 312.7M391.5 255.7Q400.5 279.2 400.5 308.8M408.5 254Q417.5 276 417.5 304M425.5 252.4Q434.5 272.5 434.5 298.7M442.5 251Q451.5 269.2 451.5 293.4M459.5 251Q468.5 266.5 468.5 288"/>
<path fill="none" stroke="#b8b8b2" stroke-opacity="0.7" stroke-width="1.0" stroke-linecap="round" d="M305.2 275.8q0.1 -3.2 -3.9 -6.3M396 256.2q3 -3.3 2 -6.6M423.5 253.5q-0.5 -1.9 -4.9 -3.8M415.2 254.3q0.3 -3.7 -3.4 -7.5M357.5 262.1q3 -3.4 1.9 -6.8M311 273.5q3.5 -2.1 3 -4.1M331.7 267.5q0.4 -1.5 -3.3 -2.9M353 263q1.8 -2.7 -0.5 -5.3M385.9 257.2q3 -3.3 2.1 -6.6M334 267q4.1 -3.2 4.2 -6.3M280.8 284.4q4.6 -2.5 5.2 -4.9M276.9 285.5q1 -4.2 -2 -8.4M395.2 256.3q0.2 -2.4 -3.6 -4.8M375.2 258.6q3.2 -1.8 2.3 -3.6"/>
<path fill-rule="evenodd" fill="url(#eg)" stroke="#4f5b64" stroke-width="1" d="M533 263C540 259 550 258 560 258.5C575 259 587 265 587 275C587 285 576 290.5 562 290C550 289.5 541 284 533 280ZM546.5 274.5C551 270.5 560 269.5 567 270.5C573 271.5 576.5 274 576 277C575 280.5 568 281.8 561 281.2C554 280.6 548 278.5 546.5 274.5Z"/>
<path d="M540 262C550 260 566 260 578 265" stroke="#d5dde2" stroke-width="2" stroke-opacity="0.8" fill="none"/>
<path d="M514 252C520 248 530 250 535 258C538.5 264 538.5 278 535 284C531 290 522 290 516 287C512 280 511 262 514 252Z" fill="url(#hg)"/>
<path d="M518 252C522 262 523 278 521 288M524 251C528 262 529 278 527 289M530 253C533.5 262 534 278 532 287" stroke="#d2d1cc" stroke-width="1.5" fill="none" stroke-opacity="0.75"/>
<path d="M521 251C525 262 526 278 524 289M527 251.5C531 262 531.5 278 529.5 288.5M534 257C537 265 537 278 534.5 285" stroke="#45443f" stroke-width="1.3" fill="none" stroke-opacity="0.75"/>
<ellipse cx="474" cy="268" rx="34" ry="21" transform="rotate(-12 474 268)" fill="#2a1d16" fill-opacity="0.85" filter="url(#s2)"/>
<g mask="url(#hmask)"><path fill="#a86a32" fill-opacity="0.75" d="M481.4 266.8L445.1 326.5L423.2 363.9L447.9 328.3L484.2 268.5ZM478.9 261.5L546.6 155.2L589.4 77.5L544.3 153.8L476.5 260.1Z"/>
<path fill="#918d83" fill-opacity="0.75" d="M471 264.9L438.1 155.3L416.9 99.1L435 156.3L467.9 265.9ZM493.9 259.5L484.8 394.4L479.2 463.9L487.7 394.6L496.8 259.8ZM472.2 270.1L454 389.6L443.1 450.6L456.4 390L474.6 270.5ZM468.4 263.5L519.2 244L562.3 222.7L518 241L467.1 260.6Z"/>
<path fill="#8f5228" fill-opacity="0.75" d="M490.7 268.4L610.1 234.1L671.5 212.3L609.4 231.7L490 265.9ZM468.2 269.8L548.4 136.5L586.5 68.9L545.8 135L465.7 268.3Z"/>
<path fill="#c0803a" fill-opacity="1.0" d="M489.4 262.9L511.7 399.6L529.1 481.1L514.2 399.2L491.9 262.5ZM463.4 263.3L369.5 210.1L293.7 167.5L368 212.7L461.9 265.9ZM478.1 266.2L419.8 319.5L396.2 341.9L422.1 322.1L480.5 268.9ZM465.3 270.5L490.2 370.2L501.2 415.8L493 369.6L468.1 269.8ZM484.6 269.5L558 186.2L611.7 114.9L555.4 184.1L482 267.3Z"/>
<path fill="#726e68" fill-opacity="0.75" d="M477 267.6L412.2 203.6L353.6 146.9L410.2 205.6L475 269.6ZM489.2 262L519.3 187.4L544.1 114L516.4 186.3L486.3 260.9ZM489.8 260L598.9 182.2L638.7 150.8L596.9 179.4L487.8 257.2Z"/>
<path fill="#a86a32" fill-opacity="1.0" d="M471.3 269L453.6 200.2L442.6 151.5L450.5 200.9L468.2 269.7Z"/>
<path fill="#918d83" fill-opacity="0.88" d="M478.7 267.5L399.5 128.5L361.4 63.4L397.4 129.7L476.6 268.7ZM463.4 262.2L433.9 384.4L420.9 441.2L436.8 385.1L466.3 262.9ZM466.9 266.4L549.1 129L582.3 72.6L547 127.7L464.8 265.1Z"/>
<path fill="#634837" fill-opacity="0.75" d="M497.5 261.2L499.1 194.6L492.3 138.1L495.8 194.7L494.2 261.3ZM488.5 264.4L451.4 387.3L436.6 457.4L454.4 388.1L491.5 265.2ZM478.9 264.2L569 348.8L641 421.3L571.4 346.4L481.3 261.7Z"/>
<path fill="#8f5228" fill-opacity="0.88" d="M492.2 265.9L534.8 218.2L568.7 169.1L532.7 216.6L490.2 264.3ZM491.9 262.3L423.7 337.2L371 398.3L426.1 339.4L494.3 264.5ZM481.2 265.5L495.8 336.3L510.2 396.9L498.1 335.8L483.5 265Z"/>
<path fill="#8f5228" fill-opacity="1.0" d="M482 259.6L508.5 407.7L520.5 468.8L511.6 407.2L485.1 259.1ZM460.4 267.7L324.8 226.4L239.1 204.6L324.1 228.9L459.7 270.2Z"/>
<path fill="#cc9548" fill-opacity="0.75" d="M478.1 266.2L491.8 194.4L499.7 131.7L488.5 193.8L474.8 265.6ZM478.7 268.3L488.8 184.7L495.7 131.2L486.5 184.4L476.3 268Z"/>
<path fill="#8f7050" fill-opacity="1.0" d="M490.4 264L524.6 166.4L532.9 131.7L522.5 165.7L488.3 263.3ZM464.6 269.6L513.4 341.3L561.9 407.2L516.2 339.4L467.4 267.7ZM475.4 269.5L581.3 230.7L627.1 211.4L580.3 227.9L474.4 266.7ZM492.9 259.6L558.8 189.8L600.8 149.9L556.5 187.4L490.6 257.2Z"/>
<path fill="#a86a32" fill-opacity="0.88" d="M459.7 266.2L467 351.4L470.8 421.9L470 351.2L462.7 266ZM495.1 259L319.8 208L223.6 183.4L319.2 210.1L494.5 261.2ZM481.3 261L421.5 205.6L380.2 167.8L419.2 208L479 263.4ZM471.8 262.3L343.6 180L287.3 144.6L342.2 182.2L470.4 264.5ZM459.3 269.9L558.1 213.1L601.4 188.3L557 211.1L458.2 268Z"/>
<path fill="#8f7050" fill-opacity="0.88" d="M484.6 257.3L347.2 231.1L281.8 225.2L346.7 234.5L484.1 260.7ZM470.3 267.6L544.8 169.2L595 109.1L542.7 167.5L468.1 265.9Z"/>
<path fill="#c4bdad" fill-opacity="1.0" d="M460.1 270.9L518 196.3L570.6 128.7L515.1 194L457.3 268.6Z"/>
<path fill="#7d3636" fill-opacity="0.75" d="M482.7 263.1L408.8 313.7L359.5 349.7L410.2 315.7L484.1 265.1ZM471.4 271.1L536.9 215.5L590 171.6L534.8 212.9L469.3 268.5Z"/>
<path fill="#aaa598" fill-opacity="1.0" d="M486.5 263.2L566.7 340.9L613.8 389.3L569.4 338.3L489.2 260.6ZM480 269.4L493.1 194.3L505.2 127.4L490.1 193.8L477 268.8Z"/>
<path fill="#d8ad62" fill-opacity="1.0" d="M483.4 260.7L419.6 344.8L380 408.6L421.9 346.4L485.7 262.4Z"/>
<path fill="#b05c30" fill-opacity="1.0" d="M476.4 268.7L568.8 347.7L634.6 398.3L570.7 345.4L478.3 266.4ZM463.3 266L461.5 215.6L460.3 165.6L457.9 215.6L459.7 266Z"/>
<path fill="#c0803a" fill-opacity="0.88" d="M485.3 260.8L596.6 171.5L632.5 136.9L594.9 169.4L483.5 258.7Z"/>
<path fill="#918d83" fill-opacity="1.0" d="M469.8 263.6L400.9 187L346.7 128.3L398.7 189L467.5 265.6ZM479.7 264.3L490.5 399.7L498.2 446.9L493.5 399.5L482.6 264ZM486.3 269L557.3 342.4L626.8 408.6L559.4 340.2L488.4 266.9ZM484.3 260.5L500.8 190.4L506.8 150.7L498.6 190L482.1 260.1Z"/>
<path fill="#8f7050" fill-opacity="0.75" d="M485.7 268.5L550.9 131.5L582.2 70.2L548.1 130.1L482.9 267.1ZM473.6 267L504.7 194.4L519.2 145.9L502.2 193.4L471.1 266ZM476.3 265.8L468.2 191.7L462.8 144.9L464.5 192.1L472.7 266.2ZM480.6 264.2L482.2 214.7L477.2 166.1L479.1 214.8L477.4 264.2Z"/>
<path fill="#806a56" fill-opacity="0.75" d="M481 263.9L504.2 166.4L515.8 120.5L501.6 165.8L478.5 263.2ZM459.7 269.1L469.3 179L475.9 136L466.9 178.7L457.3 268.7ZM493.8 264.6L597.8 221.5L651.2 196.4L596.6 218.9L492.7 262ZM489.7 266.6L490.7 336.5L487 389.2L493.7 336.6L492.8 266.7Z"/>
<path fill="#c4bdad" fill-opacity="0.88" d="M496.5 263.9L596.8 172.4L639 134.9L594.3 169.6L494 261.1ZM478.9 264.5L539.8 339.1L584.1 385.5L542.1 337.2L481.2 262.5Z"/>
<path fill="#b25650" fill-opacity="0.75" d="M479.9 267.7L393.2 155.7L346.5 100.5L390.5 157.9L477.1 269.8ZM471.7 263.1L438 180.6L417.9 143.1L435.6 181.6L469.3 264.2Z"/>
<path fill="#634837" fill-opacity="0.88" d="M491.8 264.6L346 170.2L269.6 120.1L344 173.3L489.8 267.7ZM460 271.4L438.1 364.6L415.6 454.9L440.4 365.1L462.3 271.9ZM462.9 267.6L451.1 377.9L448 473.4L454.7 378.2L466.6 267.9ZM488 259.3L449.8 343.8L427.8 386.5L452.5 345.2L490.7 260.6Z"/>
<path fill="#b25650" fill-opacity="0.88" d="M466 265.6L473.8 351.8L478.3 403.5L476.1 351.7L468.4 265.4ZM464 268.1L374.3 325.7L325 363.6L376.2 328.5L465.9 270.9Z"/>
<path fill="#98403f" fill-opacity="0.88" d="M464.9 265.2L468.1 374.2L469.9 454.3L470.7 374.1L467.6 265.1Z"/>
<path fill="#98403f" fill-opacity="1.0" d="M482.2 259.6L402.3 341.2L359.8 392.4L404.8 343.5L484.7 261.9Z"/>
<path fill="#7d3636" fill-opacity="1.0" d="M471.6 263.3L523.4 364.3L558 435.8L526.3 362.9L474.4 261.9ZM462.9 272.7L544.9 222L603 182.9L543.2 219.3L461.2 270ZM476.8 268.8L353.2 166.5L279.5 114.1L351.1 169.2L474.6 271.6Z"/>
<path fill="#726e68" fill-opacity="1.0" d="M463 270.5L384.2 349.7L341.6 397.9L386.7 352.1L465.5 272.9ZM460.2 266.7L440.4 207.1L430.4 168.8L438.1 207.8L457.9 267.3Z"/>
<path fill="#98403f" fill-opacity="0.75" d="M493 261L452.8 342.2L425 397.2L455.7 343.7L495.9 262.5ZM490.4 265.4L465.5 389.1L454 445.3L468.2 389.6L493.1 266Z"/>
<path fill="#b25650" fill-opacity="1.0" d="M481.1 267.3L453.6 359L430.3 433.7L457.1 360.1L484.7 268.4Z"/>
<path fill="#806a56" fill-opacity="0.88" d="M466.7 268.7L402.6 360.1L366.7 417.2L404.9 361.7L468.9 270.3ZM458.4 273L521.3 371.7L566.3 432.9L524.2 369.8L461.3 271.1ZM492.9 261.5L507.9 221.2L519.6 196.3L504.9 219.8L489.9 260.1Z"/>
<path fill="#c0803a" fill-opacity="0.75" d="M493.4 258.2L565.6 360.9L590.1 400.3L567.9 359.4L495.7 256.7Z"/>
<path fill="#cc9548" fill-opacity="1.0" d="M480.4 269.3L437.5 166L401.1 67L435 167L477.9 270.2ZM475 269.5L357.9 216.2L295.5 183.2L356.8 218.3L473.9 271.6Z"/>
<path fill="#806a56" fill-opacity="1.0" d="M470.8 267L458.5 361.7L455.1 443.4L460.7 361.9L473 267.2Z"/>
<path fill="#aaa598" fill-opacity="0.75" d="M485.5 266.9L436.8 342.4L414.4 389.1L439.3 343.8L488 268.3ZM486.3 265.7L457.7 176.6L444.4 141.7L454.4 177.6L483 266.7Z"/>
<path fill="#d8ad62" fill-opacity="0.75" d="M471.7 269.7L559.8 201.6L600.3 168.3L557.9 199.2L469.9 267.2Z"/>
<path fill="#aaa598" fill-opacity="0.88" d="M465.3 269.2L532.3 143.2L552.2 93.8L530 142L463 268Z"/>
<path fill="#726e68" fill-opacity="0.88" d="M460.5 263.5L443 339.2L430.8 405L445.2 339.7L462.7 263.9Z"/></g>
<ellipse cx="474" cy="268" rx="26" ry="16" transform="rotate(-12 474 268)" fill="#2a1d16" fill-opacity="0.45" filter="url(#s2)"/>
<path fill="#6e6a64" fill-opacity="0.8" d="M475.2 268.2L485 279.7L497.5 283.1L486.5 277.5L476.7 266ZM462.2 268.1L503.3 277.9L520.7 279.1L504 274.6L462.9 264.7ZM467.5 260.7L444.9 299.4L438.7 319.4L448.4 301.2L471 262.5Z"/>
<path fill="#5e4332" fill-opacity="0.8" d="M486.1 260.4L475.6 234.6L468.8 214.8L473 235.4L483.5 261.3ZM459.2 273.2L463.5 289.5L466.8 296.3L466.7 288.7L462.4 272.4ZM462.4 261.8L444.1 249.9L431.5 240.7L442.3 252.3L460.6 264.2ZM459.1 267.6L478.4 259.1L492 251.8L476.9 255.5L457.6 264Z"/>
<path fill="#6b3a1c" fill-opacity="0.9" d="M477.9 268.3L522.1 263.5L536.6 259.3L521.6 259.8L477.4 264.5ZM468.9 262.4L437.8 247L415.5 235.5L436 250.3L467 265.7ZM482.3 267.1L460.5 284.8L443.2 305.6L463.3 287.9L485.2 270.2Z"/>
<path fill="#8a4a22" fill-opacity="0.8" d="M491.5 265.4L512.7 240.8L524 223.4L510.6 239.1L489.4 263.7ZM474.8 268.4L502.8 259.5L511.2 251.3L501.4 256.4L473.4 265.3Z"/>
<path fill="#7a3030" fill-opacity="0.8" d="M479.3 261.6L473.1 287.8L475.1 313.7L476.4 288.1L482.6 262ZM457.4 266.7L483.4 278.6L497.2 285.6L485.5 274.8L459.5 263ZM465.4 261.8L458.9 285.4L455.8 305.9L462.2 286.2L468.7 262.6Z"/>
<path fill="#a5622a" fill-opacity="0.8" d="M467.4 267.3L495.5 250.3L522.4 233.1L493.7 247.1L465.5 264.1ZM488.7 260.8L487.4 225.8L482.3 197.7L483.8 226.1L485.2 261.1ZM473.6 269.2L502.9 243.7L514.5 237.1L500.8 240.7L471.4 266.2ZM478.5 267L469.5 254.5L465.7 245.8L466.6 255.9L475.6 268.4Z"/>
<path fill="#6e6a64" fill-opacity="0.9" d="M472.4 267L470.3 298.3L474.7 310.1L474.1 298.2L476.2 266.9Z"/>
<path fill="#a5622a" fill-opacity="0.9" d="M483.9 260.5L453 263L442.5 263.1L453.1 266.3L483.9 263.8ZM478 267.3L479.5 238.7L482.7 228.7L476.8 238.2L475.4 266.8ZM466.5 265.2L451.7 274.1L443.1 284.6L454 277.1L468.7 268.2Z"/>
<path fill="#4a3428" fill-opacity="0.9" d="M460 267.8L416.5 270.4L400.2 276.8L417 273.7L460.4 271.1Z"/>
<path fill="#5e4332" fill-opacity="0.9" d="M464.9 266.5L495.2 252.4L505.3 241.8L493.9 250.1L463.6 264.2ZM494.8 256.6L463.9 240.9L447.9 229.2L462.1 243.7L493 259.4ZM487.6 265.2L453.1 265.8L430.2 267.3L453.1 269.6L487.6 269Z"/>
<path fill="#4a3428" fill-opacity="0.8" d="M483.3 260.6L494.7 274.1L504.7 280.3L497.1 271.8L485.6 258.3ZM493.7 264.3L469.8 289.3L459.9 300.3L472.8 292.3L496.7 267.4Z"/>
<path fill="#8b6a4a" fill-opacity="0.9" d="M469.4 262.6L486.1 290.8L498.6 304.9L489.7 288.5L473 260.3ZM477.7 261.8L479.4 287L486.6 300.5L482.4 286.4L480.8 261.2Z"/>
<path fill="#7a3030" fill-opacity="0.9" d="M472.5 263.4L433 272.1L410.6 280.6L433.8 275.3L473.4 266.6ZM462.3 272.9L470.8 283.9L481.3 289.4L473.5 281.2L465 270.1Z"/>
<path fill="#96393b" fill-opacity="0.8" d="M491.8 267.7L499.4 246.8L507.1 235.7L495.8 244.7L488.2 265.6ZM484.4 262.2L466.2 235.3L446.7 218.2L464.2 236.9L482.4 263.8Z"/>
<path fill="#96393b" fill-opacity="0.9" d="M461.3 268.8L471.4 298.7L479.2 309L475.4 297.1L465.4 267.2Z"/>
<path fill="#8a4a22" fill-opacity="0.9" d="M473.2 264.2L456.5 295.9L446.3 321.7L460.1 297.8L476.8 266ZM468.4 265.4L483.8 258.3L498.4 255.1L482.9 255.2L467.6 262.3ZM468.4 265.7L492 282.5L502.1 286.6L493.6 280L470.1 263.2Z"/>
<path fill="#8b6a4a" fill-opacity="0.8" d="M495.8 264.2L491.4 242.2L490 226.1L488.4 242.5L492.9 264.5Z"/>
</g></svg>
<div class="m" style="left:324.2px;width:103.6px;background:#8aeae6"></div>
<div class="m" style="left:434.8px;width:97.6px;background:#8aeae6"></div>
<div class="m" style="left:539px;width:97.8px;background:#8aeae6"></div>
<div class="m" style="left:643.4px;width:97.5px;background:#3fdad8"></div>
<div class="m" style="left:748px;width:97px;background:#3fdad8"></div>
<div class="m" style="left:851.8px;width:97.8px;background:#3fdad8"></div>
<div class="m" style="left:955.9px;width:98px;background:#38c7f0"></div>
<div class="m" style="left:1060.5px;width:97.5px;background:#38c7f0"></div>
<div class="m" style="left:1164.8px;width:97.3px;background:#38c7f0"></div>
<div class="m" style="left:1268.9px;width:97.6px;background:#2d90d6"></div>
<div class="m" style="left:1373px;width:97.8px;background:#2d90d6"></div>
<div class="m" style="left:1477.4px;width:97.5px;background:#2d90d6"></div>
<div class="k" style="left:326.8px;top:587.7px;width:1250.4px;height:26px"></div>
<div class="k" style="left:324.5px;top:644.8px;width:1249.4px;height:26px"></div>
<div class="k" style="left:326.8px;top:694.7px;width:1250.4px;height:26.1px"></div>
<div class="k" style="left:323.3px;top:836.7px;width:1249.8px;height:26.2px"></div>
<div class="k" style="left:325.4px;top:902px;width:1246px;height:25.6px"></div>
<div class="k" style="left:323.3px;top:966.3px;width:1249.8px;height:26.2px"></div>
<div class="k" style="left:322.5px;top:1031px;width:1251.4px;height:26.2px"></div>
<div class="k" style="left:322.5px;top:1095.7px;width:1251.4px;height:26.2px"></div>
<div class="k" style="left:319.7px;top:1242.6px;width:1249.3px;height:26.2px"></div>
<div class="k" style="left:321.3px;top:1308.1px;width:1246.1px;height:25.8px"></div>
<div class="k" style="left:319.7px;top:1372.8px;width:1249.3px;height:26.2px"></div>
<div class="k" style="left:323.3px;top:1514.8px;width:1249.8px;height:26.2px"></div>
<div class="k" style="left:325.4px;top:1579.5px;width:1246px;height:26.2px"></div>
<div class="k" style="left:323.3px;top:1644.7px;width:1249.8px;height:26.2px"></div>
<div class="k" style="left:325.8px;top:1780.1px;width:1249.3px;height:26.3px"></div>
<div class="k" style="left:327.9px;top:1845.3px;width:1246px;height:25.8px"></div>
<div class="k" style="left:325.8px;top:1910px;width:1249.3px;height:26.2px"></div>
<div class="g" style="left:434px"></div>
<div class="g" style="left:538.1px"></div>
<div class="g" style="left:642.9px"></div>
<div class="g" style="left:747.4px"></div>
<div class="g" style="left:851.1px"></div>
<div class="g" style="left:955.5px"></div>
<div class="g" style="left:1057.9px"></div>
<div class="g" style="left:1164.2px"></div>
<div class="g" style="left:1267.9px"></div>
<div class="g" style="left:1373.5px"></div>
<div class="g" style="left:1477px"></div>
<div class="g" style="left:1573.9px"></div>
<div class="b" style="left:322.7px;top:581.1px;width:342.1px;height:19.6px;background:#8aeae6"></div>
<div class="b" style="left:642.8px;top:581.1px;width:335.2px;height:19.6px;background:#3fdad8"></div>
<div class="b" style="left:956px;top:581.1px;width:334.9px;height:19.6px;background:#38c7f0"></div>
<div class="b" style="left:1268.9px;top:581.1px;width:304.5px;height:19.6px;background:#2d90d6"></div>
<div class="b" style="left:323.9px;top:639.1px;width:340.9px;height:18.9px;background:#8aeae6"></div>
<div class="b" style="left:642.8px;top:639.1px;width:335.2px;height:18.9px;background:#3fdad8"></div>
<div class="b" style="left:956px;top:639.1px;width:333.7px;height:18.9px;background:#38c7f0"></div>
<div class="b" style="left:1267.7px;top:639.1px;width:308.7px;height:18.9px;background:#2d90d6"></div>
<div class="b" style="left:323.9px;top:691px;width:341.4px;height:19.1px;background:#8aeae6"></div>
<div class="b" style="left:643.3px;top:691px;width:334.7px;height:19.1px;background:#3fdad8"></div>
<div class="b" style="left:956px;top:691px;width:334.9px;height:19.1px;background:#38c7f0"></div>
<div class="b" style="left:1268.9px;top:691px;width:306.5px;height:19.1px;background:#2d90d6"></div>
<div class="b" style="left:538.9px;top:824.9px;width:127.9px;height:23.7px;background:#8aeae6"></div>
<div class="b" style="left:644.8px;top:824.9px;width:207.3px;height:23.7px;background:#3fdad8"></div>
<div class="b" style="left:1055.4px;top:824.9px;width:235.4px;height:23.7px;background:#38c7f0"></div>
<div class="b" style="left:1268.8px;top:824.9px;width:104px;height:23.7px;background:#2d90d6"></div>
<div class="b" style="left:852.1px;top:894.6px;width:126.2px;height:23.6px;background:#3fdad8"></div>
<div class="b" style="left:956.3px;top:894.6px;width:209.2px;height:23.6px;background:#38c7f0"></div>
<div class="b" style="left:852.1px;top:955.2px;width:126.2px;height:23.8px;background:#3fdad8"></div>
<div class="b" style="left:956.3px;top:955.2px;width:209.2px;height:23.8px;background:#38c7f0"></div>
<div class="b" style="left:956.3px;top:1019.1px;width:311.7px;height:23.8px;background:#38c7f0"></div>
<div class="b" style="left:851.3px;top:1082.6px;width:127px;height:23.8px;background:#3fdad8"></div>
<div class="b" style="left:956.3px;top:1082.6px;width:208.4px;height:23.8px;background:#38c7f0"></div>
<div class="b" style="left:852.1px;top:1234.8px;width:126.2px;height:24px;background:#3fdad8"></div>
<div class="b" style="left:956.3px;top:1234.8px;width:102.3px;height:24px;background:#38c7f0"></div>
<div class="b" style="left:956.3px;top:1297.9px;width:209.2px;height:23.7px;background:#38c7f0"></div>
<div class="b" style="left:538px;top:1361px;width:127.2px;height:23.7px;background:#8aeae6"></div>
<div class="b" style="left:643.2px;top:1361px;width:312.6px;height:23.7px;background:#3fdad8"></div>
<div class="b" style="left:852.1px;top:1503.3px;width:228.5px;height:23.8px;background:#3fdad8"></div>
<div class="b" style="left:1058.6px;top:1503.3px;width:104.5px;height:23.8px;background:#38c7f0"></div>
<div class="b" style="left:852.1px;top:1570.1px;width:226.9px;height:23.8px;background:#3fdad8"></div>
<div class="b" style="left:1057px;top:1570.1px;width:106.1px;height:23.8px;background:#38c7f0"></div>
<div class="b" style="left:747.3px;top:1622.5px;width:231px;height:23.8px;background:#3fdad8"></div>
<div class="b" style="left:956.3px;top:1622.5px;width:102.3px;height:23.8px;background:#38c7f0"></div>
<div class="b" style="left:852.1px;top:1771.1px;width:225.3px;height:23.8px;background:#3fdad8"></div>
<div class="b" style="left:1055.4px;top:1771.1px;width:107.7px;height:23.8px;background:#38c7f0"></div>
<div class="b" style="left:852.1px;top:1836.3px;width:225.3px;height:23.5px;background:#3fdad8"></div>
<div class="b" style="left:1055.4px;top:1836.3px;width:110.1px;height:23.5px;background:#38c7f0"></div>
<div class="b" style="left:748.9px;top:1898.9px;width:330.1px;height:23.8px;background:#3fdad8"></div>
<div class="b" style="left:1057px;top:1898.9px;width:211px;height:23.8px;background:#38c7f0"></div>
<div class="l" style="left:13.9px;top:563.3px;width:1561.3px;height:4.3px"></div>
<div class="l" style="left:13.9px;top:807.5px;width:1561.2px;height:4.5px"></div>
<div class="l" style="left:10px;top:1213.9px;width:1561.4px;height:4.5px"></div>
<div class="l" style="left:13.9px;top:1486.2px;width:1561.2px;height:4.5px"></div>
<div class="l" style="left:16.2px;top:1751.1px;width:1561.8px;height:4.6px"></div>
<div class="t" style="left:685.03px;top:192.74px;font-size:42.95px;transform:scaleX(1.0706);transform-origin:0 0;color:#1b1b1b;letter-spacing:0.3px;font-weight:bold;-webkit-text-stroke:2px #1b1b1b">Colorado Fly Fishing Reports</div>
<div class="t" style="left:699.27px;top:262.9px;font-size:28.59px;letter-spacing:1.77px;color:#222">Hatch Chat</div>
<div class="t" style="left:47.97px;top:502.21px;font-size:24.32px;transform:scaleX(1.0658);transform-origin:0 0;color:#1b1b1b;letter-spacing:0.5px;font-weight:bold;-webkit-text-stroke:1.3px #1b1b1b">MIDGES</div>
<div class="t" style="left:45.85px;top:761.01px;font-size:24.32px;transform:scaleX(1.0960);transform-origin:0 0;color:#1b1b1b;letter-spacing:0.5px;font-weight:bold;-webkit-text-stroke:1.3px #1b1b1b">MAYFLIES</div>
<div class="t" style="left:42.08px;top:1167.21px;font-size:24.32px;transform:scaleX(1.0760);transform-origin:0 0;color:#1b1b1b;letter-spacing:0.5px;font-weight:bold;-webkit-text-stroke:1.3px #1b1b1b">CADDIS</div>
<div class="t" style="left:46.49px;top:1439.41px;font-size:24.32px;transform:scaleX(1.0869);transform-origin:0 0;color:#1b1b1b;letter-spacing:0.5px;font-weight:bold;-webkit-text-stroke:1.3px #1b1b1b">STONEFLY</div>
<div class="t" style="left:49.59px;top:1705.01px;font-size:24.32px;transform:scaleX(1.0653);transform-origin:0 0;color:#1b1b1b;letter-spacing:0.5px;font-weight:bold;-webkit-text-stroke:1.3px #1b1b1b">TERRESTRIALS</div>
<div class="t" style="left:46.71px;top:584.47px;font-size:19.06px;letter-spacing:1.15px;color:#232323">Black Midge</div>
<div class="t" style="left:46.71px;top:638.57px;font-size:19.06px;letter-spacing:1.46px;color:#232323">Brown Midge</div>
<div class="t" style="left:47.4px;top:691.57px;font-size:19.06px;letter-spacing:1.14px;color:#232323">Snow Midge</div>
<div class="t" style="left:41.31px;top:831.57px;font-size:19.06px;letter-spacing:1.09px;color:#232323">Blue Winged Olives</div>
<div class="t" style="left:40.71px;top:895.07px;font-size:19.06px;letter-spacing:1.21px;color:#232323">Pale Morning Dun</div>
<div class="t" style="left:41.31px;top:958.57px;font-size:19.06px;letter-spacing:1.03px;color:#232323">Gray Drake</div>
<div class="t" style="left:41.9px;top:1021.37px;font-size:19.06px;letter-spacing:1.41px;color:#232323">Trico</div>
<div class="t" style="left:41.31px;top:1084.37px;font-size:19.06px;letter-spacing:1.01px;color:#232323">Green Drake</div>
<div class="t" style="left:41.6px;top:1237.57px;font-size:19.06px;letter-spacing:0.82px;color:#232323">Spotted Sedge</div>
<div class="t" style="left:41.31px;top:1300.57px;font-size:19.06px;letter-spacing:0.62px;color:#232323">Green Sedge</div>
<div class="t" style="left:42.2px;top:1364.87px;font-size:19.06px;letter-spacing:0.74px;color:#232323">American Caddis</div>
<div class="t" style="left:41.31px;top:1509.37px;font-size:19.06px;letter-spacing:0.83px;color:#232323">Golden Stones</div>
<div class="t" style="left:41.9px;top:1572.37px;font-size:19.06px;letter-spacing:0.96px;color:#232323">Yellow Sally</div>
<div class="t" style="left:41.6px;top:1636.17px;font-size:19.06px;letter-spacing:0.63px;color:#232323">Salmon Fly</div>
<div class="t" style="left:41.31px;top:1774.27px;font-size:19.06px;letter-spacing:0.69px;color:#232323">Grasshoppers</div>
<div class="t" style="left:40.71px;top:1838.27px;font-size:19.06px;letter-spacing:1.02px;color:#232323">Beetles</div>
<div class="t" style="left:42.2px;top:1901.67px;font-size:19.06px;letter-spacing:1.15px;color:#232323">Ants</div>
<div class="t" style="left:352.4px;top:501.71px;font-size:25.74px;transform:scaleX(1.0994);transform-origin:0 0;color:#ffffff;font-weight:bold">Jan</div>
<div class="t" style="left:456.19px;top:502.51px;font-size:25.74px;transform:scaleX(1.1243);transform-origin:0 0;color:#ffffff;font-weight:bold">Feb</div>
<div class="t" style="left:553.79px;top:503.51px;font-size:25.74px;transform:scaleX(1.1277);transform-origin:0 0;color:#ffffff;font-weight:bold">Mar</div>
<div class="t" style="left:669.17px;top:503.51px;font-size:25.74px;transform:scaleX(1.0765);transform-origin:0 0;color:#ffffff;font-weight:bold">Apr</div>
<div class="t" style="left:765.08px;top:503.51px;font-size:25.74px;transform:scaleX(1.1330);transform-origin:0 0;color:#ffffff;font-weight:bold">May</div>
<div class="t" style="left:874px;top:504.21px;font-size:25.74px;transform:scaleX(1.1029);transform-origin:0 0;color:#ffffff;font-weight:bold">Jun</div>
<div class="t" style="left:979.7px;top:503.51px;font-size:25.74px;transform:scaleX(1.1354);transform-origin:0 0;color:#ffffff;font-weight:bold">Jul</div>
<div class="t" style="left:1076.96px;top:501.71px;font-size:25.74px;transform:scaleX(1.0856);transform-origin:0 0;color:#ffffff;font-weight:bold">Aug</div>
<div class="t" style="left:1181.07px;top:501.71px;font-size:25.74px;transform:scaleX(1.0791);transform-origin:0 0;color:#ffffff;font-weight:bold">Sep</div>
<div class="t" style="left:1294.02px;top:501.71px;font-size:25.74px;transform:scaleX(1.0910);transform-origin:0 0;color:#ffffff;font-weight:bold">Oct</div>
<div class="t" style="left:1398.24px;top:501.71px;font-size:25.74px;transform:scaleX(1.0936);transform-origin:0 0;color:#ffffff;font-weight:bold">Nov</div>
<div class="t" style="left:1499.8px;top:502.51px;font-size:25.74px;transform:scaleX(1.1207);transform-origin:0 0;color:#ffffff;font-weight:bold">Dec</div>
<div class="t" style="left:710.5px;top:2178.83px;font-size:18.63px;transform:scaleX(0.9839);transform-origin:0 0;color:#000">&copy; The Flyfisher, LLC</div>
</body></html>
